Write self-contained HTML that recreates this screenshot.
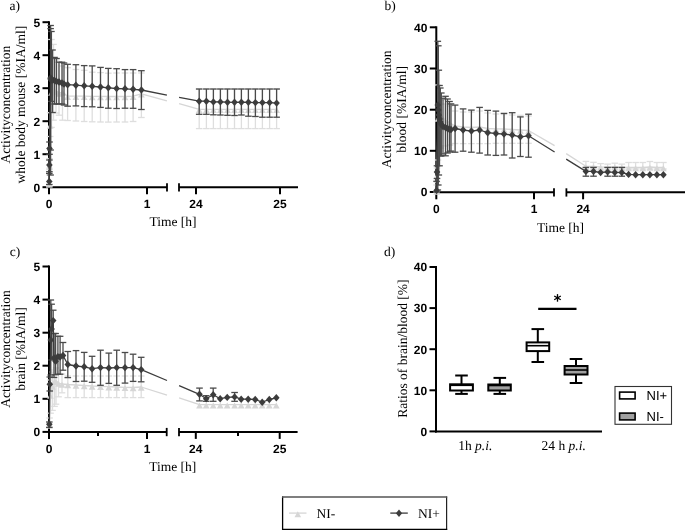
<!DOCTYPE html>
<html><head><meta charset="utf-8"><style>html,body{margin:0;padding:0;background:#fff;}svg{display:block;will-change:transform;} text{text-rendering:geometricPrecision;}</style></head>
<body>
<svg width="685" height="530" viewBox="0 0 685 530">
<rect width="685" height="530" fill="#fff"/>
<line x1="49.00" y1="21.20" x2="49.00" y2="188.20" stroke="#000" stroke-width="2" />
<line x1="42.50" y1="22.20" x2="49.00" y2="22.20" stroke="#000" stroke-width="2" />
<text x="40.1" y="26.5" font-family="Liberation Sans" font-size="12" font-weight="bold" text-anchor="end"  style="">5</text>
<line x1="42.50" y1="55.20" x2="49.00" y2="55.20" stroke="#000" stroke-width="2" />
<text x="40.1" y="59.5" font-family="Liberation Sans" font-size="12" font-weight="bold" text-anchor="end"  style="">4</text>
<line x1="42.50" y1="88.20" x2="49.00" y2="88.20" stroke="#000" stroke-width="2" />
<text x="40.1" y="92.5" font-family="Liberation Sans" font-size="12" font-weight="bold" text-anchor="end"  style="">3</text>
<line x1="42.50" y1="121.20" x2="49.00" y2="121.20" stroke="#000" stroke-width="2" />
<text x="40.1" y="125.5" font-family="Liberation Sans" font-size="12" font-weight="bold" text-anchor="end"  style="">2</text>
<line x1="42.50" y1="154.20" x2="49.00" y2="154.20" stroke="#000" stroke-width="2" />
<text x="40.1" y="158.5" font-family="Liberation Sans" font-size="12" font-weight="bold" text-anchor="end"  style="">1</text>
<line x1="42.50" y1="187.20" x2="49.00" y2="187.20" stroke="#000" stroke-width="2" />
<text x="40.1" y="191.5" font-family="Liberation Sans" font-size="12" font-weight="bold" text-anchor="end"  style="">0</text>
<line x1="48.00" y1="187.20" x2="167.00" y2="187.20" stroke="#000" stroke-width="2" />
<line x1="179.00" y1="187.20" x2="298.00" y2="187.20" stroke="#000" stroke-width="2" />
<line x1="167.00" y1="183.20" x2="167.00" y2="191.50" stroke="#000" stroke-width="1.8" />
<line x1="179.00" y1="183.20" x2="179.00" y2="191.50" stroke="#000" stroke-width="1.8" />
<line x1="49.00" y1="187.20" x2="49.00" y2="194.20" stroke="#000" stroke-width="2" />
<text x="49" y="208.3" font-family="Liberation Sans" font-size="12" font-weight="bold" text-anchor="middle"  style="">0</text>
<line x1="147.00" y1="187.20" x2="147.00" y2="194.20" stroke="#000" stroke-width="2" />
<text x="147" y="208.3" font-family="Liberation Sans" font-size="12" font-weight="bold" text-anchor="middle"  style="">1</text>
<line x1="196.00" y1="187.20" x2="196.00" y2="194.20" stroke="#000" stroke-width="2" />
<text x="196" y="208.3" font-family="Liberation Sans" font-size="12" font-weight="bold" text-anchor="middle"  style="">24</text>
<line x1="280.00" y1="187.20" x2="280.00" y2="194.20" stroke="#000" stroke-width="2" />
<text x="280" y="208.3" font-family="Liberation Sans" font-size="12" font-weight="bold" text-anchor="middle"  style="">25</text>
<text x="9.6" y="9.8" font-family="Liberation Serif" font-size="13.5" font-weight="normal" text-anchor="start"  style="">a)</text>
<line x1="49.30" y1="175.00" x2="49.30" y2="187.00" stroke="#dedede" stroke-width="1.3" />
<line x1="46.00" y1="175.00" x2="52.60" y2="175.00" stroke="#dedede" stroke-width="1.3" />
<line x1="46.00" y1="187.00" x2="52.60" y2="187.00" stroke="#dedede" stroke-width="1.3" />
<line x1="49.50" y1="158.60" x2="49.50" y2="169.60" stroke="#dedede" stroke-width="1.3" />
<line x1="46.20" y1="158.60" x2="52.80" y2="158.60" stroke="#dedede" stroke-width="1.3" />
<line x1="46.20" y1="169.60" x2="52.80" y2="169.60" stroke="#dedede" stroke-width="1.3" />
<line x1="50.20" y1="112.70" x2="50.20" y2="136.50" stroke="#dedede" stroke-width="1.3" />
<line x1="46.90" y1="112.70" x2="53.50" y2="112.70" stroke="#dedede" stroke-width="1.3" />
<line x1="46.90" y1="136.50" x2="53.50" y2="136.50" stroke="#dedede" stroke-width="1.3" />
<line x1="51.50" y1="39.50" x2="51.50" y2="127.40" stroke="#dedede" stroke-width="1.3" />
<line x1="48.20" y1="39.50" x2="54.80" y2="39.50" stroke="#dedede" stroke-width="1.3" />
<line x1="48.20" y1="127.40" x2="54.80" y2="127.40" stroke="#dedede" stroke-width="1.3" />
<line x1="53.50" y1="44.40" x2="53.50" y2="120.20" stroke="#dedede" stroke-width="1.3" />
<line x1="50.20" y1="44.40" x2="56.80" y2="44.40" stroke="#dedede" stroke-width="1.3" />
<line x1="50.20" y1="120.20" x2="56.80" y2="120.20" stroke="#dedede" stroke-width="1.3" />
<line x1="56.00" y1="60.00" x2="56.00" y2="113.00" stroke="#dedede" stroke-width="1.3" />
<line x1="52.70" y1="60.00" x2="59.30" y2="60.00" stroke="#dedede" stroke-width="1.3" />
<line x1="52.70" y1="113.00" x2="59.30" y2="113.00" stroke="#dedede" stroke-width="1.3" />
<line x1="59.00" y1="62.00" x2="59.00" y2="115.20" stroke="#dedede" stroke-width="1.3" />
<line x1="55.70" y1="62.00" x2="62.30" y2="62.00" stroke="#dedede" stroke-width="1.3" />
<line x1="55.70" y1="115.20" x2="62.30" y2="115.20" stroke="#dedede" stroke-width="1.3" />
<line x1="62.50" y1="66.00" x2="62.50" y2="120.20" stroke="#dedede" stroke-width="1.3" />
<line x1="59.20" y1="66.00" x2="65.80" y2="66.00" stroke="#dedede" stroke-width="1.3" />
<line x1="59.20" y1="120.20" x2="65.80" y2="120.20" stroke="#dedede" stroke-width="1.3" />
<line x1="67.60" y1="67.70" x2="67.60" y2="120.50" stroke="#dedede" stroke-width="1.3" />
<line x1="64.30" y1="67.70" x2="70.90" y2="67.70" stroke="#dedede" stroke-width="1.3" />
<line x1="64.30" y1="120.50" x2="70.90" y2="120.50" stroke="#dedede" stroke-width="1.3" />
<line x1="75.90" y1="69.50" x2="75.90" y2="121.00" stroke="#dedede" stroke-width="1.3" />
<line x1="72.60" y1="69.50" x2="79.20" y2="69.50" stroke="#dedede" stroke-width="1.3" />
<line x1="72.60" y1="121.00" x2="79.20" y2="121.00" stroke="#dedede" stroke-width="1.3" />
<line x1="84.20" y1="70.30" x2="84.20" y2="121.50" stroke="#dedede" stroke-width="1.3" />
<line x1="80.90" y1="70.30" x2="87.50" y2="70.30" stroke="#dedede" stroke-width="1.3" />
<line x1="80.90" y1="121.50" x2="87.50" y2="121.50" stroke="#dedede" stroke-width="1.3" />
<line x1="92.20" y1="72.20" x2="92.20" y2="121.80" stroke="#dedede" stroke-width="1.3" />
<line x1="88.90" y1="72.20" x2="95.50" y2="72.20" stroke="#dedede" stroke-width="1.3" />
<line x1="88.90" y1="121.80" x2="95.50" y2="121.80" stroke="#dedede" stroke-width="1.3" />
<line x1="100.50" y1="72.60" x2="100.50" y2="122.00" stroke="#dedede" stroke-width="1.3" />
<line x1="97.20" y1="72.60" x2="103.80" y2="72.60" stroke="#dedede" stroke-width="1.3" />
<line x1="97.20" y1="122.00" x2="103.80" y2="122.00" stroke="#dedede" stroke-width="1.3" />
<line x1="108.30" y1="73.20" x2="108.30" y2="122.10" stroke="#dedede" stroke-width="1.3" />
<line x1="105.00" y1="73.20" x2="111.60" y2="73.20" stroke="#dedede" stroke-width="1.3" />
<line x1="105.00" y1="122.10" x2="111.60" y2="122.10" stroke="#dedede" stroke-width="1.3" />
<line x1="116.60" y1="73.00" x2="116.60" y2="122.00" stroke="#dedede" stroke-width="1.3" />
<line x1="113.30" y1="73.00" x2="119.90" y2="73.00" stroke="#dedede" stroke-width="1.3" />
<line x1="113.30" y1="122.00" x2="119.90" y2="122.00" stroke="#dedede" stroke-width="1.3" />
<line x1="125.00" y1="73.00" x2="125.00" y2="122.00" stroke="#dedede" stroke-width="1.3" />
<line x1="121.70" y1="73.00" x2="128.30" y2="73.00" stroke="#dedede" stroke-width="1.3" />
<line x1="121.70" y1="122.00" x2="128.30" y2="122.00" stroke="#dedede" stroke-width="1.3" />
<line x1="133.10" y1="73.00" x2="133.10" y2="121.50" stroke="#dedede" stroke-width="1.3" />
<line x1="129.80" y1="73.00" x2="136.40" y2="73.00" stroke="#dedede" stroke-width="1.3" />
<line x1="129.80" y1="121.50" x2="136.40" y2="121.50" stroke="#dedede" stroke-width="1.3" />
<line x1="141.40" y1="73.00" x2="141.40" y2="117.50" stroke="#dedede" stroke-width="1.3" />
<line x1="138.10" y1="73.00" x2="144.70" y2="73.00" stroke="#dedede" stroke-width="1.3" />
<line x1="138.10" y1="117.50" x2="144.70" y2="117.50" stroke="#dedede" stroke-width="1.3" />
<line x1="199.20" y1="89.20" x2="199.20" y2="128.60" stroke="#dedede" stroke-width="1.3" />
<line x1="195.90" y1="89.20" x2="202.50" y2="89.20" stroke="#dedede" stroke-width="1.3" />
<line x1="195.90" y1="128.60" x2="202.50" y2="128.60" stroke="#dedede" stroke-width="1.3" />
<line x1="206.40" y1="89.20" x2="206.40" y2="128.60" stroke="#dedede" stroke-width="1.3" />
<line x1="203.10" y1="89.20" x2="209.70" y2="89.20" stroke="#dedede" stroke-width="1.3" />
<line x1="203.10" y1="128.60" x2="209.70" y2="128.60" stroke="#dedede" stroke-width="1.3" />
<line x1="213.40" y1="89.20" x2="213.40" y2="128.60" stroke="#dedede" stroke-width="1.3" />
<line x1="210.10" y1="89.20" x2="216.70" y2="89.20" stroke="#dedede" stroke-width="1.3" />
<line x1="210.10" y1="128.60" x2="216.70" y2="128.60" stroke="#dedede" stroke-width="1.3" />
<line x1="220.40" y1="89.20" x2="220.40" y2="128.60" stroke="#dedede" stroke-width="1.3" />
<line x1="217.10" y1="89.20" x2="223.70" y2="89.20" stroke="#dedede" stroke-width="1.3" />
<line x1="217.10" y1="128.60" x2="223.70" y2="128.60" stroke="#dedede" stroke-width="1.3" />
<line x1="227.50" y1="89.20" x2="227.50" y2="128.60" stroke="#dedede" stroke-width="1.3" />
<line x1="224.20" y1="89.20" x2="230.80" y2="89.20" stroke="#dedede" stroke-width="1.3" />
<line x1="224.20" y1="128.60" x2="230.80" y2="128.60" stroke="#dedede" stroke-width="1.3" />
<line x1="234.50" y1="89.20" x2="234.50" y2="128.60" stroke="#dedede" stroke-width="1.3" />
<line x1="231.20" y1="89.20" x2="237.80" y2="89.20" stroke="#dedede" stroke-width="1.3" />
<line x1="231.20" y1="128.60" x2="237.80" y2="128.60" stroke="#dedede" stroke-width="1.3" />
<line x1="241.40" y1="89.20" x2="241.40" y2="128.60" stroke="#dedede" stroke-width="1.3" />
<line x1="238.10" y1="89.20" x2="244.70" y2="89.20" stroke="#dedede" stroke-width="1.3" />
<line x1="238.10" y1="128.60" x2="244.70" y2="128.60" stroke="#dedede" stroke-width="1.3" />
<line x1="248.40" y1="89.20" x2="248.40" y2="128.60" stroke="#dedede" stroke-width="1.3" />
<line x1="245.10" y1="89.20" x2="251.70" y2="89.20" stroke="#dedede" stroke-width="1.3" />
<line x1="245.10" y1="128.60" x2="251.70" y2="128.60" stroke="#dedede" stroke-width="1.3" />
<line x1="255.40" y1="89.20" x2="255.40" y2="128.60" stroke="#dedede" stroke-width="1.3" />
<line x1="252.10" y1="89.20" x2="258.70" y2="89.20" stroke="#dedede" stroke-width="1.3" />
<line x1="252.10" y1="128.60" x2="258.70" y2="128.60" stroke="#dedede" stroke-width="1.3" />
<line x1="262.40" y1="89.20" x2="262.40" y2="128.60" stroke="#dedede" stroke-width="1.3" />
<line x1="259.10" y1="89.20" x2="265.70" y2="89.20" stroke="#dedede" stroke-width="1.3" />
<line x1="259.10" y1="128.60" x2="265.70" y2="128.60" stroke="#dedede" stroke-width="1.3" />
<line x1="269.60" y1="89.20" x2="269.60" y2="128.60" stroke="#dedede" stroke-width="1.3" />
<line x1="266.30" y1="89.20" x2="272.90" y2="89.20" stroke="#dedede" stroke-width="1.3" />
<line x1="266.30" y1="128.60" x2="272.90" y2="128.60" stroke="#dedede" stroke-width="1.3" />
<line x1="276.60" y1="89.20" x2="276.60" y2="128.60" stroke="#dedede" stroke-width="1.3" />
<line x1="273.30" y1="89.20" x2="279.90" y2="89.20" stroke="#dedede" stroke-width="1.3" />
<line x1="273.30" y1="128.60" x2="279.90" y2="128.60" stroke="#dedede" stroke-width="1.3" />
<polyline points="49.30,183.00 49.50,165.00 50.20,125.00 51.50,92.00 53.50,90.00 56.00,91.00 59.00,93.00 62.50,92.00 67.60,96.20 75.90,96.20 84.20,96.20 92.20,96.40 100.50,96.40 108.30,96.50 116.60,96.50 125.00,96.50 133.10,96.20 141.40,93.80 166.90,100.90" fill="none" stroke="#d6d6d6" stroke-width="1.3" stroke-linejoin="round"/>
<polyline points="179.10,103.60 199.20,109.30 206.40,109.30 213.40,109.30 220.40,109.30 227.50,109.30 234.50,109.30 241.40,109.30 248.40,109.30 255.40,109.30 262.40,109.30 269.60,109.30 276.60,109.30" fill="none" stroke="#d6d6d6" stroke-width="1.3" stroke-linejoin="round"/>
<path d="M49.30 180.80L52.70 186.80L45.90 186.80Z" fill="#d6d6d6"/>
<path d="M49.50 162.80L52.90 168.80L46.10 168.80Z" fill="#d6d6d6"/>
<path d="M50.20 122.80L53.60 128.80L46.80 128.80Z" fill="#d6d6d6"/>
<path d="M51.50 89.80L54.90 95.80L48.10 95.80Z" fill="#d6d6d6"/>
<path d="M53.50 87.80L56.90 93.80L50.10 93.80Z" fill="#d6d6d6"/>
<path d="M56.00 88.80L59.40 94.80L52.60 94.80Z" fill="#d6d6d6"/>
<path d="M59.00 90.80L62.40 96.80L55.60 96.80Z" fill="#d6d6d6"/>
<path d="M62.50 89.80L65.90 95.80L59.10 95.80Z" fill="#d6d6d6"/>
<path d="M67.60 94.00L71.00 100.00L64.20 100.00Z" fill="#d6d6d6"/>
<path d="M75.90 94.00L79.30 100.00L72.50 100.00Z" fill="#d6d6d6"/>
<path d="M84.20 94.00L87.60 100.00L80.80 100.00Z" fill="#d6d6d6"/>
<path d="M92.20 94.20L95.60 100.20L88.80 100.20Z" fill="#d6d6d6"/>
<path d="M100.50 94.20L103.90 100.20L97.10 100.20Z" fill="#d6d6d6"/>
<path d="M108.30 94.30L111.70 100.30L104.90 100.30Z" fill="#d6d6d6"/>
<path d="M116.60 94.30L120.00 100.30L113.20 100.30Z" fill="#d6d6d6"/>
<path d="M125.00 94.30L128.40 100.30L121.60 100.30Z" fill="#d6d6d6"/>
<path d="M133.10 94.00L136.50 100.00L129.70 100.00Z" fill="#d6d6d6"/>
<path d="M141.40 91.60L144.80 97.60L138.00 97.60Z" fill="#d6d6d6"/>
<path d="M199.20 107.10L202.60 113.10L195.80 113.10Z" fill="#d6d6d6"/>
<path d="M206.40 107.10L209.80 113.10L203.00 113.10Z" fill="#d6d6d6"/>
<path d="M213.40 107.10L216.80 113.10L210.00 113.10Z" fill="#d6d6d6"/>
<path d="M220.40 107.10L223.80 113.10L217.00 113.10Z" fill="#d6d6d6"/>
<path d="M227.50 107.10L230.90 113.10L224.10 113.10Z" fill="#d6d6d6"/>
<path d="M234.50 107.10L237.90 113.10L231.10 113.10Z" fill="#d6d6d6"/>
<path d="M241.40 107.10L244.80 113.10L238.00 113.10Z" fill="#d6d6d6"/>
<path d="M248.40 107.10L251.80 113.10L245.00 113.10Z" fill="#d6d6d6"/>
<path d="M255.40 107.10L258.80 113.10L252.00 113.10Z" fill="#d6d6d6"/>
<path d="M262.40 107.10L265.80 113.10L259.00 113.10Z" fill="#d6d6d6"/>
<path d="M269.60 107.10L273.00 113.10L266.20 113.10Z" fill="#d6d6d6"/>
<path d="M276.60 107.10L280.00 113.10L273.20 113.10Z" fill="#d6d6d6"/>
<line x1="49.30" y1="173.40" x2="49.30" y2="184.50" stroke="#4a4a4a" stroke-width="1.3" />
<line x1="46.00" y1="173.40" x2="52.60" y2="173.40" stroke="#4a4a4a" stroke-width="1.3" />
<line x1="46.00" y1="184.50" x2="52.60" y2="184.50" stroke="#4a4a4a" stroke-width="1.3" />
<line x1="49.40" y1="160.00" x2="49.40" y2="171.70" stroke="#4a4a4a" stroke-width="1.3" />
<line x1="46.10" y1="160.00" x2="52.70" y2="160.00" stroke="#4a4a4a" stroke-width="1.3" />
<line x1="46.10" y1="171.70" x2="52.70" y2="171.70" stroke="#4a4a4a" stroke-width="1.3" />
<line x1="49.50" y1="142.00" x2="49.50" y2="154.30" stroke="#4a4a4a" stroke-width="1.3" />
<line x1="46.20" y1="142.00" x2="52.80" y2="142.00" stroke="#4a4a4a" stroke-width="1.3" />
<line x1="46.20" y1="154.30" x2="52.80" y2="154.30" stroke="#4a4a4a" stroke-width="1.3" />
<line x1="50.60" y1="25.50" x2="50.60" y2="175.00" stroke="#4a4a4a" stroke-width="1.3" />
<line x1="47.30" y1="25.50" x2="53.90" y2="25.50" stroke="#4a4a4a" stroke-width="1.3" />
<line x1="47.30" y1="175.00" x2="53.90" y2="175.00" stroke="#4a4a4a" stroke-width="1.3" />
<line x1="50.60" y1="28.60" x2="50.60" y2="150.00" stroke="#4a4a4a" stroke-width="1.3" />
<line x1="47.30" y1="28.60" x2="53.90" y2="28.60" stroke="#4a4a4a" stroke-width="1.3" />
<line x1="47.30" y1="150.00" x2="53.90" y2="150.00" stroke="#4a4a4a" stroke-width="1.3" />
<line x1="51.40" y1="31.50" x2="51.40" y2="101.40" stroke="#4a4a4a" stroke-width="1.3" />
<line x1="48.10" y1="31.50" x2="54.70" y2="31.50" stroke="#4a4a4a" stroke-width="1.3" />
<line x1="48.10" y1="101.40" x2="54.70" y2="101.40" stroke="#4a4a4a" stroke-width="1.3" />
<line x1="52.50" y1="50.00" x2="52.50" y2="112.50" stroke="#4a4a4a" stroke-width="1.3" />
<line x1="49.20" y1="50.00" x2="55.80" y2="50.00" stroke="#4a4a4a" stroke-width="1.3" />
<line x1="49.20" y1="112.50" x2="55.80" y2="112.50" stroke="#4a4a4a" stroke-width="1.3" />
<line x1="54.50" y1="57.40" x2="54.50" y2="104.00" stroke="#4a4a4a" stroke-width="1.3" />
<line x1="51.20" y1="57.40" x2="57.80" y2="57.40" stroke="#4a4a4a" stroke-width="1.3" />
<line x1="51.20" y1="104.00" x2="57.80" y2="104.00" stroke="#4a4a4a" stroke-width="1.3" />
<line x1="56.50" y1="58.50" x2="56.50" y2="104.00" stroke="#4a4a4a" stroke-width="1.3" />
<line x1="53.20" y1="58.50" x2="59.80" y2="58.50" stroke="#4a4a4a" stroke-width="1.3" />
<line x1="53.20" y1="104.00" x2="59.80" y2="104.00" stroke="#4a4a4a" stroke-width="1.3" />
<line x1="59.00" y1="62.20" x2="59.00" y2="104.00" stroke="#4a4a4a" stroke-width="1.3" />
<line x1="55.70" y1="62.20" x2="62.30" y2="62.20" stroke="#4a4a4a" stroke-width="1.3" />
<line x1="55.70" y1="104.00" x2="62.30" y2="104.00" stroke="#4a4a4a" stroke-width="1.3" />
<line x1="62.00" y1="62.20" x2="62.00" y2="104.00" stroke="#4a4a4a" stroke-width="1.3" />
<line x1="58.70" y1="62.20" x2="65.30" y2="62.20" stroke="#4a4a4a" stroke-width="1.3" />
<line x1="58.70" y1="104.00" x2="65.30" y2="104.00" stroke="#4a4a4a" stroke-width="1.3" />
<line x1="64.00" y1="63.00" x2="64.00" y2="105.00" stroke="#4a4a4a" stroke-width="1.3" />
<line x1="60.70" y1="63.00" x2="67.30" y2="63.00" stroke="#4a4a4a" stroke-width="1.3" />
<line x1="60.70" y1="105.00" x2="67.30" y2="105.00" stroke="#4a4a4a" stroke-width="1.3" />
<line x1="67.60" y1="64.30" x2="67.60" y2="106.20" stroke="#4a4a4a" stroke-width="1.3" />
<line x1="64.30" y1="64.30" x2="70.90" y2="64.30" stroke="#4a4a4a" stroke-width="1.3" />
<line x1="64.30" y1="106.20" x2="70.90" y2="106.20" stroke="#4a4a4a" stroke-width="1.3" />
<line x1="75.90" y1="64.70" x2="75.90" y2="105.90" stroke="#4a4a4a" stroke-width="1.3" />
<line x1="72.60" y1="64.70" x2="79.20" y2="64.70" stroke="#4a4a4a" stroke-width="1.3" />
<line x1="72.60" y1="105.90" x2="79.20" y2="105.90" stroke="#4a4a4a" stroke-width="1.3" />
<line x1="84.20" y1="65.60" x2="84.20" y2="106.60" stroke="#4a4a4a" stroke-width="1.3" />
<line x1="80.90" y1="65.60" x2="87.50" y2="65.60" stroke="#4a4a4a" stroke-width="1.3" />
<line x1="80.90" y1="106.60" x2="87.50" y2="106.60" stroke="#4a4a4a" stroke-width="1.3" />
<line x1="92.20" y1="65.90" x2="92.20" y2="106.80" stroke="#4a4a4a" stroke-width="1.3" />
<line x1="88.90" y1="65.90" x2="95.50" y2="65.90" stroke="#4a4a4a" stroke-width="1.3" />
<line x1="88.90" y1="106.80" x2="95.50" y2="106.80" stroke="#4a4a4a" stroke-width="1.3" />
<line x1="100.50" y1="67.40" x2="100.50" y2="107.40" stroke="#4a4a4a" stroke-width="1.3" />
<line x1="97.20" y1="67.40" x2="103.80" y2="67.40" stroke="#4a4a4a" stroke-width="1.3" />
<line x1="97.20" y1="107.40" x2="103.80" y2="107.40" stroke="#4a4a4a" stroke-width="1.3" />
<line x1="108.30" y1="68.40" x2="108.30" y2="108.20" stroke="#4a4a4a" stroke-width="1.3" />
<line x1="105.00" y1="68.40" x2="111.60" y2="68.40" stroke="#4a4a4a" stroke-width="1.3" />
<line x1="105.00" y1="108.20" x2="111.60" y2="108.20" stroke="#4a4a4a" stroke-width="1.3" />
<line x1="116.60" y1="68.70" x2="116.60" y2="108.50" stroke="#4a4a4a" stroke-width="1.3" />
<line x1="113.30" y1="68.70" x2="119.90" y2="68.70" stroke="#4a4a4a" stroke-width="1.3" />
<line x1="113.30" y1="108.50" x2="119.90" y2="108.50" stroke="#4a4a4a" stroke-width="1.3" />
<line x1="125.00" y1="69.60" x2="125.00" y2="108.20" stroke="#4a4a4a" stroke-width="1.3" />
<line x1="121.70" y1="69.60" x2="128.30" y2="69.60" stroke="#4a4a4a" stroke-width="1.3" />
<line x1="121.70" y1="108.20" x2="128.30" y2="108.20" stroke="#4a4a4a" stroke-width="1.3" />
<line x1="133.10" y1="69.60" x2="133.10" y2="108.30" stroke="#4a4a4a" stroke-width="1.3" />
<line x1="129.80" y1="69.60" x2="136.40" y2="69.60" stroke="#4a4a4a" stroke-width="1.3" />
<line x1="129.80" y1="108.30" x2="136.40" y2="108.30" stroke="#4a4a4a" stroke-width="1.3" />
<line x1="141.40" y1="70.70" x2="141.40" y2="109.50" stroke="#4a4a4a" stroke-width="1.3" />
<line x1="138.10" y1="70.70" x2="144.70" y2="70.70" stroke="#4a4a4a" stroke-width="1.3" />
<line x1="138.10" y1="109.50" x2="144.70" y2="109.50" stroke="#4a4a4a" stroke-width="1.3" />
<line x1="199.20" y1="89.00" x2="199.20" y2="114.30" stroke="#4a4a4a" stroke-width="1.3" />
<line x1="195.90" y1="89.00" x2="202.50" y2="89.00" stroke="#4a4a4a" stroke-width="1.3" />
<line x1="195.90" y1="114.30" x2="202.50" y2="114.30" stroke="#4a4a4a" stroke-width="1.3" />
<line x1="206.40" y1="89.00" x2="206.40" y2="114.30" stroke="#4a4a4a" stroke-width="1.3" />
<line x1="203.10" y1="89.00" x2="209.70" y2="89.00" stroke="#4a4a4a" stroke-width="1.3" />
<line x1="203.10" y1="114.30" x2="209.70" y2="114.30" stroke="#4a4a4a" stroke-width="1.3" />
<line x1="213.40" y1="89.00" x2="213.40" y2="114.80" stroke="#4a4a4a" stroke-width="1.3" />
<line x1="210.10" y1="89.00" x2="216.70" y2="89.00" stroke="#4a4a4a" stroke-width="1.3" />
<line x1="210.10" y1="114.80" x2="216.70" y2="114.80" stroke="#4a4a4a" stroke-width="1.3" />
<line x1="220.40" y1="89.00" x2="220.40" y2="115.00" stroke="#4a4a4a" stroke-width="1.3" />
<line x1="217.10" y1="89.00" x2="223.70" y2="89.00" stroke="#4a4a4a" stroke-width="1.3" />
<line x1="217.10" y1="115.00" x2="223.70" y2="115.00" stroke="#4a4a4a" stroke-width="1.3" />
<line x1="227.50" y1="89.00" x2="227.50" y2="115.30" stroke="#4a4a4a" stroke-width="1.3" />
<line x1="224.20" y1="89.00" x2="230.80" y2="89.00" stroke="#4a4a4a" stroke-width="1.3" />
<line x1="224.20" y1="115.30" x2="230.80" y2="115.30" stroke="#4a4a4a" stroke-width="1.3" />
<line x1="234.50" y1="89.00" x2="234.50" y2="115.50" stroke="#4a4a4a" stroke-width="1.3" />
<line x1="231.20" y1="89.00" x2="237.80" y2="89.00" stroke="#4a4a4a" stroke-width="1.3" />
<line x1="231.20" y1="115.50" x2="237.80" y2="115.50" stroke="#4a4a4a" stroke-width="1.3" />
<line x1="241.40" y1="89.00" x2="241.40" y2="115.00" stroke="#4a4a4a" stroke-width="1.3" />
<line x1="238.10" y1="89.00" x2="244.70" y2="89.00" stroke="#4a4a4a" stroke-width="1.3" />
<line x1="238.10" y1="115.00" x2="244.70" y2="115.00" stroke="#4a4a4a" stroke-width="1.3" />
<line x1="248.40" y1="89.00" x2="248.40" y2="116.20" stroke="#4a4a4a" stroke-width="1.3" />
<line x1="245.10" y1="89.00" x2="251.70" y2="89.00" stroke="#4a4a4a" stroke-width="1.3" />
<line x1="245.10" y1="116.20" x2="251.70" y2="116.20" stroke="#4a4a4a" stroke-width="1.3" />
<line x1="255.40" y1="89.00" x2="255.40" y2="116.50" stroke="#4a4a4a" stroke-width="1.3" />
<line x1="252.10" y1="89.00" x2="258.70" y2="89.00" stroke="#4a4a4a" stroke-width="1.3" />
<line x1="252.10" y1="116.50" x2="258.70" y2="116.50" stroke="#4a4a4a" stroke-width="1.3" />
<line x1="262.40" y1="89.00" x2="262.40" y2="117.20" stroke="#4a4a4a" stroke-width="1.3" />
<line x1="259.10" y1="89.00" x2="265.70" y2="89.00" stroke="#4a4a4a" stroke-width="1.3" />
<line x1="259.10" y1="117.20" x2="265.70" y2="117.20" stroke="#4a4a4a" stroke-width="1.3" />
<line x1="269.60" y1="89.00" x2="269.60" y2="117.20" stroke="#4a4a4a" stroke-width="1.3" />
<line x1="266.30" y1="89.00" x2="272.90" y2="89.00" stroke="#4a4a4a" stroke-width="1.3" />
<line x1="266.30" y1="117.20" x2="272.90" y2="117.20" stroke="#4a4a4a" stroke-width="1.3" />
<line x1="276.60" y1="89.00" x2="276.60" y2="117.20" stroke="#4a4a4a" stroke-width="1.3" />
<line x1="273.30" y1="89.00" x2="279.90" y2="89.00" stroke="#4a4a4a" stroke-width="1.3" />
<line x1="273.30" y1="117.20" x2="279.90" y2="117.20" stroke="#4a4a4a" stroke-width="1.3" />
<polyline points="49.30,181.50 49.40,165.00 49.50,148.40 50.60,78.00 50.60,79.00 51.40,80.00 52.50,80.00 54.50,80.50 56.50,81.50 59.00,82.00 62.00,83.00 64.00,84.00 67.60,84.70 75.90,85.20 84.20,85.80 92.20,86.30 100.50,87.00 108.30,87.80 116.60,88.50 125.00,88.80 133.10,89.30 141.40,90.00 166.90,95.10" fill="none" stroke="#3c3c3c" stroke-width="1.3" stroke-linejoin="round"/>
<polyline points="179.10,97.40 199.20,101.20 206.40,101.20 213.40,101.90 220.40,101.90 227.50,102.20 234.50,102.30 241.40,102.20 248.40,102.30 255.40,102.60 262.40,102.60 269.60,102.60 276.60,103.10" fill="none" stroke="#3c3c3c" stroke-width="1.3" stroke-linejoin="round"/>
<path d="M49.30 177.80L52.60 181.50L49.30 185.20L46.00 181.50Z" fill="#3c3c3c"/>
<path d="M49.40 161.30L52.70 165.00L49.40 168.70L46.10 165.00Z" fill="#3c3c3c"/>
<path d="M49.50 144.70L52.80 148.40L49.50 152.10L46.20 148.40Z" fill="#3c3c3c"/>
<path d="M50.60 74.30L53.90 78.00L50.60 81.70L47.30 78.00Z" fill="#3c3c3c"/>
<path d="M50.60 75.30L53.90 79.00L50.60 82.70L47.30 79.00Z" fill="#3c3c3c"/>
<path d="M51.40 76.30L54.70 80.00L51.40 83.70L48.10 80.00Z" fill="#3c3c3c"/>
<path d="M52.50 76.30L55.80 80.00L52.50 83.70L49.20 80.00Z" fill="#3c3c3c"/>
<path d="M54.50 76.80L57.80 80.50L54.50 84.20L51.20 80.50Z" fill="#3c3c3c"/>
<path d="M56.50 77.80L59.80 81.50L56.50 85.20L53.20 81.50Z" fill="#3c3c3c"/>
<path d="M59.00 78.30L62.30 82.00L59.00 85.70L55.70 82.00Z" fill="#3c3c3c"/>
<path d="M62.00 79.30L65.30 83.00L62.00 86.70L58.70 83.00Z" fill="#3c3c3c"/>
<path d="M64.00 80.30L67.30 84.00L64.00 87.70L60.70 84.00Z" fill="#3c3c3c"/>
<path d="M67.60 81.00L70.90 84.70L67.60 88.40L64.30 84.70Z" fill="#3c3c3c"/>
<path d="M75.90 81.50L79.20 85.20L75.90 88.90L72.60 85.20Z" fill="#3c3c3c"/>
<path d="M84.20 82.10L87.50 85.80L84.20 89.50L80.90 85.80Z" fill="#3c3c3c"/>
<path d="M92.20 82.60L95.50 86.30L92.20 90.00L88.90 86.30Z" fill="#3c3c3c"/>
<path d="M100.50 83.30L103.80 87.00L100.50 90.70L97.20 87.00Z" fill="#3c3c3c"/>
<path d="M108.30 84.10L111.60 87.80L108.30 91.50L105.00 87.80Z" fill="#3c3c3c"/>
<path d="M116.60 84.80L119.90 88.50L116.60 92.20L113.30 88.50Z" fill="#3c3c3c"/>
<path d="M125.00 85.10L128.30 88.80L125.00 92.50L121.70 88.80Z" fill="#3c3c3c"/>
<path d="M133.10 85.60L136.40 89.30L133.10 93.00L129.80 89.30Z" fill="#3c3c3c"/>
<path d="M141.40 86.30L144.70 90.00L141.40 93.70L138.10 90.00Z" fill="#3c3c3c"/>
<path d="M199.20 97.50L202.50 101.20L199.20 104.90L195.90 101.20Z" fill="#3c3c3c"/>
<path d="M206.40 97.50L209.70 101.20L206.40 104.90L203.10 101.20Z" fill="#3c3c3c"/>
<path d="M213.40 98.20L216.70 101.90L213.40 105.60L210.10 101.90Z" fill="#3c3c3c"/>
<path d="M220.40 98.20L223.70 101.90L220.40 105.60L217.10 101.90Z" fill="#3c3c3c"/>
<path d="M227.50 98.50L230.80 102.20L227.50 105.90L224.20 102.20Z" fill="#3c3c3c"/>
<path d="M234.50 98.60L237.80 102.30L234.50 106.00L231.20 102.30Z" fill="#3c3c3c"/>
<path d="M241.40 98.50L244.70 102.20L241.40 105.90L238.10 102.20Z" fill="#3c3c3c"/>
<path d="M248.40 98.60L251.70 102.30L248.40 106.00L245.10 102.30Z" fill="#3c3c3c"/>
<path d="M255.40 98.90L258.70 102.60L255.40 106.30L252.10 102.60Z" fill="#3c3c3c"/>
<path d="M262.40 98.90L265.70 102.60L262.40 106.30L259.10 102.60Z" fill="#3c3c3c"/>
<path d="M269.60 98.90L272.90 102.60L269.60 106.30L266.30 102.60Z" fill="#3c3c3c"/>
<path d="M276.60 99.40L279.90 103.10L276.60 106.80L273.30 103.10Z" fill="#3c3c3c"/>
<text x="173" y="225.8" font-family="Liberation Serif" font-size="13.5" font-weight="normal" text-anchor="middle"  style="">Time [h]</text>
<text transform="translate(10.4,104.7) rotate(-90)" x="0" y="0" font-family="Liberation Serif" font-size="13.5" text-anchor="middle">Activityconcentration</text>
<text transform="translate(25.4,104.7) rotate(-90)" x="0" y="0" font-family="Liberation Serif" font-size="13.5" text-anchor="middle">whole body mouse [%IA/ml]</text>
<line x1="436.30" y1="26.30" x2="436.30" y2="193.00" stroke="#000" stroke-width="2" />
<line x1="429.80" y1="27.30" x2="436.30" y2="27.30" stroke="#000" stroke-width="2" />
<text x="427.40000000000003" y="31.6" font-family="Liberation Sans" font-size="12" font-weight="bold" text-anchor="end"  style="">40</text>
<line x1="429.80" y1="68.50" x2="436.30" y2="68.50" stroke="#000" stroke-width="2" />
<text x="427.40000000000003" y="72.8" font-family="Liberation Sans" font-size="12" font-weight="bold" text-anchor="end"  style="">30</text>
<line x1="429.80" y1="109.70" x2="436.30" y2="109.70" stroke="#000" stroke-width="2" />
<text x="427.40000000000003" y="114.0" font-family="Liberation Sans" font-size="12" font-weight="bold" text-anchor="end"  style="">20</text>
<line x1="429.80" y1="150.80" x2="436.30" y2="150.80" stroke="#000" stroke-width="2" />
<text x="427.40000000000003" y="155.10000000000002" font-family="Liberation Sans" font-size="12" font-weight="bold" text-anchor="end"  style="">10</text>
<line x1="429.80" y1="192.00" x2="436.30" y2="192.00" stroke="#000" stroke-width="2" />
<text x="427.40000000000003" y="196.3" font-family="Liberation Sans" font-size="12" font-weight="bold" text-anchor="end"  style="">0</text>
<line x1="435.30" y1="192.30" x2="554.00" y2="192.30" stroke="#000" stroke-width="2" />
<line x1="566.40" y1="192.30" x2="686.00" y2="192.30" stroke="#000" stroke-width="2" />
<line x1="554.00" y1="188.30" x2="554.00" y2="196.60" stroke="#000" stroke-width="1.8" />
<line x1="566.40" y1="188.30" x2="566.40" y2="196.60" stroke="#000" stroke-width="1.8" />
<line x1="436.30" y1="192.30" x2="436.30" y2="199.30" stroke="#000" stroke-width="2" />
<text x="436.3" y="213" font-family="Liberation Sans" font-size="12" font-weight="bold" text-anchor="middle"  style="">0</text>
<line x1="534.00" y1="192.30" x2="534.00" y2="199.30" stroke="#000" stroke-width="2" />
<text x="534" y="213" font-family="Liberation Sans" font-size="12" font-weight="bold" text-anchor="middle"  style="">1</text>
<line x1="583.10" y1="192.30" x2="583.10" y2="199.30" stroke="#000" stroke-width="2" />
<text x="583.1" y="213" font-family="Liberation Sans" font-size="12" font-weight="bold" text-anchor="middle"  style="">24</text>
<text x="384.4" y="9.6" font-family="Liberation Serif" font-size="13.5" font-weight="normal" text-anchor="start"  style="">b)</text>
<line x1="436.60" y1="185.00" x2="436.60" y2="192.00" stroke="#dedede" stroke-width="1.3" />
<line x1="433.30" y1="185.00" x2="439.90" y2="185.00" stroke="#dedede" stroke-width="1.3" />
<line x1="433.30" y1="192.00" x2="439.90" y2="192.00" stroke="#dedede" stroke-width="1.3" />
<line x1="437.00" y1="168.00" x2="437.00" y2="182.00" stroke="#dedede" stroke-width="1.3" />
<line x1="433.70" y1="168.00" x2="440.30" y2="168.00" stroke="#dedede" stroke-width="1.3" />
<line x1="433.70" y1="182.00" x2="440.30" y2="182.00" stroke="#dedede" stroke-width="1.3" />
<line x1="438.00" y1="85.00" x2="438.00" y2="160.00" stroke="#dedede" stroke-width="1.3" />
<line x1="434.70" y1="85.00" x2="441.30" y2="85.00" stroke="#dedede" stroke-width="1.3" />
<line x1="434.70" y1="160.00" x2="441.30" y2="160.00" stroke="#dedede" stroke-width="1.3" />
<line x1="441.00" y1="100.00" x2="441.00" y2="148.00" stroke="#dedede" stroke-width="1.3" />
<line x1="437.70" y1="100.00" x2="444.30" y2="100.00" stroke="#dedede" stroke-width="1.3" />
<line x1="437.70" y1="148.00" x2="444.30" y2="148.00" stroke="#dedede" stroke-width="1.3" />
<line x1="445.00" y1="104.00" x2="445.00" y2="146.00" stroke="#dedede" stroke-width="1.3" />
<line x1="441.70" y1="104.00" x2="448.30" y2="104.00" stroke="#dedede" stroke-width="1.3" />
<line x1="441.70" y1="146.00" x2="448.30" y2="146.00" stroke="#dedede" stroke-width="1.3" />
<line x1="450.00" y1="106.00" x2="450.00" y2="145.00" stroke="#dedede" stroke-width="1.3" />
<line x1="446.70" y1="106.00" x2="453.30" y2="106.00" stroke="#dedede" stroke-width="1.3" />
<line x1="446.70" y1="145.00" x2="453.30" y2="145.00" stroke="#dedede" stroke-width="1.3" />
<line x1="455.10" y1="111.00" x2="455.10" y2="143.50" stroke="#dedede" stroke-width="1.3" />
<line x1="451.80" y1="111.00" x2="458.40" y2="111.00" stroke="#dedede" stroke-width="1.3" />
<line x1="451.80" y1="143.50" x2="458.40" y2="143.50" stroke="#dedede" stroke-width="1.3" />
<line x1="463.10" y1="112.00" x2="463.10" y2="143.60" stroke="#dedede" stroke-width="1.3" />
<line x1="459.80" y1="112.00" x2="466.40" y2="112.00" stroke="#dedede" stroke-width="1.3" />
<line x1="459.80" y1="143.60" x2="466.40" y2="143.60" stroke="#dedede" stroke-width="1.3" />
<line x1="471.40" y1="112.00" x2="471.40" y2="143.60" stroke="#dedede" stroke-width="1.3" />
<line x1="468.10" y1="112.00" x2="474.70" y2="112.00" stroke="#dedede" stroke-width="1.3" />
<line x1="468.10" y1="143.60" x2="474.70" y2="143.60" stroke="#dedede" stroke-width="1.3" />
<line x1="479.60" y1="111.00" x2="479.60" y2="143.60" stroke="#dedede" stroke-width="1.3" />
<line x1="476.30" y1="111.00" x2="482.90" y2="111.00" stroke="#dedede" stroke-width="1.3" />
<line x1="476.30" y1="143.60" x2="482.90" y2="143.60" stroke="#dedede" stroke-width="1.3" />
<line x1="487.70" y1="113.00" x2="487.70" y2="143.60" stroke="#dedede" stroke-width="1.3" />
<line x1="484.40" y1="113.00" x2="491.00" y2="113.00" stroke="#dedede" stroke-width="1.3" />
<line x1="484.40" y1="143.60" x2="491.00" y2="143.60" stroke="#dedede" stroke-width="1.3" />
<line x1="495.90" y1="114.00" x2="495.90" y2="143.30" stroke="#dedede" stroke-width="1.3" />
<line x1="492.60" y1="114.00" x2="499.20" y2="114.00" stroke="#dedede" stroke-width="1.3" />
<line x1="492.60" y1="143.30" x2="499.20" y2="143.30" stroke="#dedede" stroke-width="1.3" />
<line x1="504.00" y1="114.50" x2="504.00" y2="143.30" stroke="#dedede" stroke-width="1.3" />
<line x1="500.70" y1="114.50" x2="507.30" y2="114.50" stroke="#dedede" stroke-width="1.3" />
<line x1="500.70" y1="143.30" x2="507.30" y2="143.30" stroke="#dedede" stroke-width="1.3" />
<line x1="512.20" y1="115.00" x2="512.20" y2="143.30" stroke="#dedede" stroke-width="1.3" />
<line x1="508.90" y1="115.00" x2="515.50" y2="115.00" stroke="#dedede" stroke-width="1.3" />
<line x1="508.90" y1="143.30" x2="515.50" y2="143.30" stroke="#dedede" stroke-width="1.3" />
<line x1="520.40" y1="115.30" x2="520.40" y2="143.30" stroke="#dedede" stroke-width="1.3" />
<line x1="517.10" y1="115.30" x2="523.70" y2="115.30" stroke="#dedede" stroke-width="1.3" />
<line x1="517.10" y1="143.30" x2="523.70" y2="143.30" stroke="#dedede" stroke-width="1.3" />
<line x1="528.50" y1="116.00" x2="528.50" y2="143.30" stroke="#dedede" stroke-width="1.3" />
<line x1="525.20" y1="116.00" x2="531.80" y2="116.00" stroke="#dedede" stroke-width="1.3" />
<line x1="525.20" y1="143.30" x2="531.80" y2="143.30" stroke="#dedede" stroke-width="1.3" />
<line x1="585.90" y1="161.40" x2="585.90" y2="169.00" stroke="#dedede" stroke-width="1.3" />
<line x1="582.60" y1="161.40" x2="589.20" y2="161.40" stroke="#dedede" stroke-width="1.3" />
<line x1="582.60" y1="169.00" x2="589.20" y2="169.00" stroke="#dedede" stroke-width="1.3" />
<line x1="593.50" y1="162.30" x2="593.50" y2="169.00" stroke="#dedede" stroke-width="1.3" />
<line x1="590.20" y1="162.30" x2="596.80" y2="162.30" stroke="#dedede" stroke-width="1.3" />
<line x1="590.20" y1="169.00" x2="596.80" y2="169.00" stroke="#dedede" stroke-width="1.3" />
<line x1="600.60" y1="163.60" x2="600.60" y2="169.00" stroke="#dedede" stroke-width="1.3" />
<line x1="597.30" y1="163.60" x2="603.90" y2="163.60" stroke="#dedede" stroke-width="1.3" />
<line x1="597.30" y1="169.00" x2="603.90" y2="169.00" stroke="#dedede" stroke-width="1.3" />
<line x1="607.60" y1="164.10" x2="607.60" y2="169.00" stroke="#dedede" stroke-width="1.3" />
<line x1="604.30" y1="164.10" x2="610.90" y2="164.10" stroke="#dedede" stroke-width="1.3" />
<line x1="604.30" y1="169.00" x2="610.90" y2="169.00" stroke="#dedede" stroke-width="1.3" />
<line x1="614.80" y1="163.20" x2="614.80" y2="169.00" stroke="#dedede" stroke-width="1.3" />
<line x1="611.50" y1="163.20" x2="618.10" y2="163.20" stroke="#dedede" stroke-width="1.3" />
<line x1="611.50" y1="169.00" x2="618.10" y2="169.00" stroke="#dedede" stroke-width="1.3" />
<line x1="621.80" y1="164.10" x2="621.80" y2="169.00" stroke="#dedede" stroke-width="1.3" />
<line x1="618.50" y1="164.10" x2="625.10" y2="164.10" stroke="#dedede" stroke-width="1.3" />
<line x1="618.50" y1="169.00" x2="625.10" y2="169.00" stroke="#dedede" stroke-width="1.3" />
<line x1="628.60" y1="162.50" x2="628.60" y2="169.00" stroke="#dedede" stroke-width="1.3" />
<line x1="625.30" y1="162.50" x2="631.90" y2="162.50" stroke="#dedede" stroke-width="1.3" />
<line x1="625.30" y1="169.00" x2="631.90" y2="169.00" stroke="#dedede" stroke-width="1.3" />
<line x1="635.60" y1="162.50" x2="635.60" y2="169.00" stroke="#dedede" stroke-width="1.3" />
<line x1="632.30" y1="162.50" x2="638.90" y2="162.50" stroke="#dedede" stroke-width="1.3" />
<line x1="632.30" y1="169.00" x2="638.90" y2="169.00" stroke="#dedede" stroke-width="1.3" />
<line x1="642.80" y1="162.50" x2="642.80" y2="169.00" stroke="#dedede" stroke-width="1.3" />
<line x1="639.50" y1="162.50" x2="646.10" y2="162.50" stroke="#dedede" stroke-width="1.3" />
<line x1="639.50" y1="169.00" x2="646.10" y2="169.00" stroke="#dedede" stroke-width="1.3" />
<line x1="649.90" y1="161.50" x2="649.90" y2="169.00" stroke="#dedede" stroke-width="1.3" />
<line x1="646.60" y1="161.50" x2="653.20" y2="161.50" stroke="#dedede" stroke-width="1.3" />
<line x1="646.60" y1="169.00" x2="653.20" y2="169.00" stroke="#dedede" stroke-width="1.3" />
<line x1="656.90" y1="162.50" x2="656.90" y2="169.00" stroke="#dedede" stroke-width="1.3" />
<line x1="653.60" y1="162.50" x2="660.20" y2="162.50" stroke="#dedede" stroke-width="1.3" />
<line x1="653.60" y1="169.00" x2="660.20" y2="169.00" stroke="#dedede" stroke-width="1.3" />
<line x1="663.40" y1="162.50" x2="663.40" y2="169.00" stroke="#dedede" stroke-width="1.3" />
<line x1="660.10" y1="162.50" x2="666.70" y2="162.50" stroke="#dedede" stroke-width="1.3" />
<line x1="660.10" y1="169.00" x2="666.70" y2="169.00" stroke="#dedede" stroke-width="1.3" />
<polyline points="436.60,191.00 437.00,175.00 438.00,118.00 441.00,116.00 445.00,120.00 450.00,123.00 455.10,126.00 463.10,127.00 471.40,127.50 479.60,127.00 487.70,128.50 495.90,128.80 504.00,129.00 512.20,129.50 520.40,130.00 528.50,130.50 554.60,145.60" fill="none" stroke="#d6d6d6" stroke-width="1.3" stroke-linejoin="round"/>
<polyline points="566.20,153.60 585.90,166.30 593.50,166.50 600.60,167.00 607.60,167.20 614.80,166.80 621.80,167.20 628.60,167.50 635.60,167.50 642.80,167.50 649.90,167.00 656.90,167.50 663.40,167.50" fill="none" stroke="#d6d6d6" stroke-width="1.3" stroke-linejoin="round"/>
<path d="M436.60 188.80L440.00 194.80L433.20 194.80Z" fill="#d6d6d6"/>
<path d="M437.00 172.80L440.40 178.80L433.60 178.80Z" fill="#d6d6d6"/>
<path d="M438.00 115.80L441.40 121.80L434.60 121.80Z" fill="#d6d6d6"/>
<path d="M441.00 113.80L444.40 119.80L437.60 119.80Z" fill="#d6d6d6"/>
<path d="M445.00 117.80L448.40 123.80L441.60 123.80Z" fill="#d6d6d6"/>
<path d="M450.00 120.80L453.40 126.80L446.60 126.80Z" fill="#d6d6d6"/>
<path d="M455.10 123.80L458.50 129.80L451.70 129.80Z" fill="#d6d6d6"/>
<path d="M463.10 124.80L466.50 130.80L459.70 130.80Z" fill="#d6d6d6"/>
<path d="M471.40 125.30L474.80 131.30L468.00 131.30Z" fill="#d6d6d6"/>
<path d="M479.60 124.80L483.00 130.80L476.20 130.80Z" fill="#d6d6d6"/>
<path d="M487.70 126.30L491.10 132.30L484.30 132.30Z" fill="#d6d6d6"/>
<path d="M495.90 126.60L499.30 132.60L492.50 132.60Z" fill="#d6d6d6"/>
<path d="M504.00 126.80L507.40 132.80L500.60 132.80Z" fill="#d6d6d6"/>
<path d="M512.20 127.30L515.60 133.30L508.80 133.30Z" fill="#d6d6d6"/>
<path d="M520.40 127.80L523.80 133.80L517.00 133.80Z" fill="#d6d6d6"/>
<path d="M528.50 128.30L531.90 134.30L525.10 134.30Z" fill="#d6d6d6"/>
<path d="M585.90 164.10L589.30 170.10L582.50 170.10Z" fill="#d6d6d6"/>
<path d="M593.50 164.30L596.90 170.30L590.10 170.30Z" fill="#d6d6d6"/>
<path d="M600.60 164.80L604.00 170.80L597.20 170.80Z" fill="#d6d6d6"/>
<path d="M607.60 165.00L611.00 171.00L604.20 171.00Z" fill="#d6d6d6"/>
<path d="M614.80 164.60L618.20 170.60L611.40 170.60Z" fill="#d6d6d6"/>
<path d="M621.80 165.00L625.20 171.00L618.40 171.00Z" fill="#d6d6d6"/>
<path d="M628.60 165.30L632.00 171.30L625.20 171.30Z" fill="#d6d6d6"/>
<path d="M635.60 165.30L639.00 171.30L632.20 171.30Z" fill="#d6d6d6"/>
<path d="M642.80 165.30L646.20 171.30L639.40 171.30Z" fill="#d6d6d6"/>
<path d="M649.90 164.80L653.30 170.80L646.50 170.80Z" fill="#d6d6d6"/>
<path d="M656.90 165.30L660.30 171.30L653.50 171.30Z" fill="#d6d6d6"/>
<path d="M663.40 165.30L666.80 171.30L660.00 171.30Z" fill="#d6d6d6"/>
<line x1="436.60" y1="181.30" x2="436.60" y2="192.00" stroke="#4a4a4a" stroke-width="1.3" />
<line x1="433.30" y1="181.30" x2="439.90" y2="181.30" stroke="#4a4a4a" stroke-width="1.3" />
<line x1="433.30" y1="192.00" x2="439.90" y2="192.00" stroke="#4a4a4a" stroke-width="1.3" />
<line x1="437.00" y1="165.80" x2="437.00" y2="178.50" stroke="#4a4a4a" stroke-width="1.3" />
<line x1="433.70" y1="165.80" x2="440.30" y2="165.80" stroke="#4a4a4a" stroke-width="1.3" />
<line x1="433.70" y1="178.50" x2="440.30" y2="178.50" stroke="#4a4a4a" stroke-width="1.3" />
<line x1="437.80" y1="41.30" x2="437.80" y2="190.00" stroke="#4a4a4a" stroke-width="1.3" />
<line x1="434.50" y1="41.30" x2="441.10" y2="41.30" stroke="#4a4a4a" stroke-width="1.3" />
<line x1="434.50" y1="190.00" x2="441.10" y2="190.00" stroke="#4a4a4a" stroke-width="1.3" />
<line x1="438.30" y1="45.80" x2="438.30" y2="185.00" stroke="#4a4a4a" stroke-width="1.3" />
<line x1="435.00" y1="45.80" x2="441.60" y2="45.80" stroke="#4a4a4a" stroke-width="1.3" />
<line x1="435.00" y1="185.00" x2="441.60" y2="185.00" stroke="#4a4a4a" stroke-width="1.3" />
<line x1="438.80" y1="70.20" x2="438.80" y2="175.00" stroke="#4a4a4a" stroke-width="1.3" />
<line x1="435.50" y1="70.20" x2="442.10" y2="70.20" stroke="#4a4a4a" stroke-width="1.3" />
<line x1="435.50" y1="175.00" x2="442.10" y2="175.00" stroke="#4a4a4a" stroke-width="1.3" />
<line x1="439.50" y1="85.50" x2="439.50" y2="165.80" stroke="#4a4a4a" stroke-width="1.3" />
<line x1="436.20" y1="85.50" x2="442.80" y2="85.50" stroke="#4a4a4a" stroke-width="1.3" />
<line x1="436.20" y1="165.80" x2="442.80" y2="165.80" stroke="#4a4a4a" stroke-width="1.3" />
<line x1="440.30" y1="88.00" x2="440.30" y2="156.00" stroke="#4a4a4a" stroke-width="1.3" />
<line x1="437.00" y1="88.00" x2="443.60" y2="88.00" stroke="#4a4a4a" stroke-width="1.3" />
<line x1="437.00" y1="156.00" x2="443.60" y2="156.00" stroke="#4a4a4a" stroke-width="1.3" />
<line x1="441.30" y1="93.00" x2="441.30" y2="155.80" stroke="#4a4a4a" stroke-width="1.3" />
<line x1="438.00" y1="93.00" x2="444.60" y2="93.00" stroke="#4a4a4a" stroke-width="1.3" />
<line x1="438.00" y1="155.80" x2="444.60" y2="155.80" stroke="#4a4a4a" stroke-width="1.3" />
<line x1="443.00" y1="98.20" x2="443.00" y2="154.00" stroke="#4a4a4a" stroke-width="1.3" />
<line x1="439.70" y1="98.20" x2="446.30" y2="98.20" stroke="#4a4a4a" stroke-width="1.3" />
<line x1="439.70" y1="154.00" x2="446.30" y2="154.00" stroke="#4a4a4a" stroke-width="1.3" />
<line x1="445.50" y1="96.30" x2="445.50" y2="155.80" stroke="#4a4a4a" stroke-width="1.3" />
<line x1="442.20" y1="96.30" x2="448.80" y2="96.30" stroke="#4a4a4a" stroke-width="1.3" />
<line x1="442.20" y1="155.80" x2="448.80" y2="155.80" stroke="#4a4a4a" stroke-width="1.3" />
<line x1="447.50" y1="99.00" x2="447.50" y2="153.00" stroke="#4a4a4a" stroke-width="1.3" />
<line x1="444.20" y1="99.00" x2="450.80" y2="99.00" stroke="#4a4a4a" stroke-width="1.3" />
<line x1="444.20" y1="153.00" x2="450.80" y2="153.00" stroke="#4a4a4a" stroke-width="1.3" />
<line x1="449.50" y1="101.50" x2="449.50" y2="152.00" stroke="#4a4a4a" stroke-width="1.3" />
<line x1="446.20" y1="101.50" x2="452.80" y2="101.50" stroke="#4a4a4a" stroke-width="1.3" />
<line x1="446.20" y1="152.00" x2="452.80" y2="152.00" stroke="#4a4a4a" stroke-width="1.3" />
<line x1="451.00" y1="103.90" x2="451.00" y2="151.10" stroke="#4a4a4a" stroke-width="1.3" />
<line x1="447.70" y1="103.90" x2="454.30" y2="103.90" stroke="#4a4a4a" stroke-width="1.3" />
<line x1="447.70" y1="151.10" x2="454.30" y2="151.10" stroke="#4a4a4a" stroke-width="1.3" />
<line x1="455.10" y1="105.10" x2="455.10" y2="152.20" stroke="#4a4a4a" stroke-width="1.3" />
<line x1="451.80" y1="105.10" x2="458.40" y2="105.10" stroke="#4a4a4a" stroke-width="1.3" />
<line x1="451.80" y1="152.20" x2="458.40" y2="152.20" stroke="#4a4a4a" stroke-width="1.3" />
<line x1="463.10" y1="108.90" x2="463.10" y2="151.20" stroke="#4a4a4a" stroke-width="1.3" />
<line x1="459.80" y1="108.90" x2="466.40" y2="108.90" stroke="#4a4a4a" stroke-width="1.3" />
<line x1="459.80" y1="151.20" x2="466.40" y2="151.20" stroke="#4a4a4a" stroke-width="1.3" />
<line x1="471.40" y1="110.10" x2="471.40" y2="152.20" stroke="#4a4a4a" stroke-width="1.3" />
<line x1="468.10" y1="110.10" x2="474.70" y2="110.10" stroke="#4a4a4a" stroke-width="1.3" />
<line x1="468.10" y1="152.20" x2="474.70" y2="152.20" stroke="#4a4a4a" stroke-width="1.3" />
<line x1="479.60" y1="107.40" x2="479.60" y2="153.10" stroke="#4a4a4a" stroke-width="1.3" />
<line x1="476.30" y1="107.40" x2="482.90" y2="107.40" stroke="#4a4a4a" stroke-width="1.3" />
<line x1="476.30" y1="153.10" x2="482.90" y2="153.10" stroke="#4a4a4a" stroke-width="1.3" />
<line x1="487.70" y1="110.40" x2="487.70" y2="155.00" stroke="#4a4a4a" stroke-width="1.3" />
<line x1="484.40" y1="110.40" x2="491.00" y2="110.40" stroke="#4a4a4a" stroke-width="1.3" />
<line x1="484.40" y1="155.00" x2="491.00" y2="155.00" stroke="#4a4a4a" stroke-width="1.3" />
<line x1="495.90" y1="111.10" x2="495.90" y2="155.40" stroke="#4a4a4a" stroke-width="1.3" />
<line x1="492.60" y1="111.10" x2="499.20" y2="111.10" stroke="#4a4a4a" stroke-width="1.3" />
<line x1="492.60" y1="155.40" x2="499.20" y2="155.40" stroke="#4a4a4a" stroke-width="1.3" />
<line x1="504.00" y1="113.40" x2="504.00" y2="155.00" stroke="#4a4a4a" stroke-width="1.3" />
<line x1="500.70" y1="113.40" x2="507.30" y2="113.40" stroke="#4a4a4a" stroke-width="1.3" />
<line x1="500.70" y1="155.00" x2="507.30" y2="155.00" stroke="#4a4a4a" stroke-width="1.3" />
<line x1="512.20" y1="112.70" x2="512.20" y2="158.00" stroke="#4a4a4a" stroke-width="1.3" />
<line x1="508.90" y1="112.70" x2="515.50" y2="112.70" stroke="#4a4a4a" stroke-width="1.3" />
<line x1="508.90" y1="158.00" x2="515.50" y2="158.00" stroke="#4a4a4a" stroke-width="1.3" />
<line x1="520.40" y1="116.90" x2="520.40" y2="156.50" stroke="#4a4a4a" stroke-width="1.3" />
<line x1="517.10" y1="116.90" x2="523.70" y2="116.90" stroke="#4a4a4a" stroke-width="1.3" />
<line x1="517.10" y1="156.50" x2="523.70" y2="156.50" stroke="#4a4a4a" stroke-width="1.3" />
<line x1="528.50" y1="114.20" x2="528.50" y2="157.20" stroke="#4a4a4a" stroke-width="1.3" />
<line x1="525.20" y1="114.20" x2="531.80" y2="114.20" stroke="#4a4a4a" stroke-width="1.3" />
<line x1="525.20" y1="157.20" x2="531.80" y2="157.20" stroke="#4a4a4a" stroke-width="1.3" />
<line x1="585.90" y1="167.40" x2="585.90" y2="176.20" stroke="#4a4a4a" stroke-width="1.3" />
<line x1="582.60" y1="167.40" x2="589.20" y2="167.40" stroke="#4a4a4a" stroke-width="1.3" />
<line x1="582.60" y1="176.20" x2="589.20" y2="176.20" stroke="#4a4a4a" stroke-width="1.3" />
<line x1="593.50" y1="167.40" x2="593.50" y2="176.20" stroke="#4a4a4a" stroke-width="1.3" />
<line x1="590.20" y1="167.40" x2="596.80" y2="167.40" stroke="#4a4a4a" stroke-width="1.3" />
<line x1="590.20" y1="176.20" x2="596.80" y2="176.20" stroke="#4a4a4a" stroke-width="1.3" />
<line x1="607.60" y1="167.40" x2="607.60" y2="176.20" stroke="#4a4a4a" stroke-width="1.3" />
<line x1="604.30" y1="167.40" x2="610.90" y2="167.40" stroke="#4a4a4a" stroke-width="1.3" />
<line x1="604.30" y1="176.20" x2="610.90" y2="176.20" stroke="#4a4a4a" stroke-width="1.3" />
<line x1="614.80" y1="167.40" x2="614.80" y2="176.20" stroke="#4a4a4a" stroke-width="1.3" />
<line x1="611.50" y1="167.40" x2="618.10" y2="167.40" stroke="#4a4a4a" stroke-width="1.3" />
<line x1="611.50" y1="176.20" x2="618.10" y2="176.20" stroke="#4a4a4a" stroke-width="1.3" />
<line x1="621.80" y1="167.40" x2="621.80" y2="176.20" stroke="#4a4a4a" stroke-width="1.3" />
<line x1="618.50" y1="167.40" x2="625.10" y2="167.40" stroke="#4a4a4a" stroke-width="1.3" />
<line x1="618.50" y1="176.20" x2="625.10" y2="176.20" stroke="#4a4a4a" stroke-width="1.3" />
<polyline points="436.60,190.50 437.00,172.00 437.80,105.00 438.30,110.00 438.80,115.00 439.50,119.00 440.30,122.00 441.30,124.50 443.00,126.50 445.50,127.50 447.50,128.50 449.50,129.50 451.00,129.50 455.10,128.50 463.10,130.00 471.40,131.10 479.60,130.00 487.70,132.70 495.90,133.50 504.00,134.10 512.20,135.00 520.40,136.80 528.50,135.80 554.60,152.00" fill="none" stroke="#3c3c3c" stroke-width="1.3" stroke-linejoin="round"/>
<polyline points="566.20,159.10 585.90,171.40 593.50,171.40 600.60,172.50 607.60,171.90 614.80,172.40 621.80,172.50 628.60,174.40 635.60,174.70 642.80,174.70 649.90,174.70 656.90,174.70 663.40,174.70" fill="none" stroke="#3c3c3c" stroke-width="1.3" stroke-linejoin="round"/>
<path d="M436.60 186.80L439.90 190.50L436.60 194.20L433.30 190.50Z" fill="#3c3c3c"/>
<path d="M437.00 168.30L440.30 172.00L437.00 175.70L433.70 172.00Z" fill="#3c3c3c"/>
<path d="M437.80 101.30L441.10 105.00L437.80 108.70L434.50 105.00Z" fill="#3c3c3c"/>
<path d="M438.30 106.30L441.60 110.00L438.30 113.70L435.00 110.00Z" fill="#3c3c3c"/>
<path d="M438.80 111.30L442.10 115.00L438.80 118.70L435.50 115.00Z" fill="#3c3c3c"/>
<path d="M439.50 115.30L442.80 119.00L439.50 122.70L436.20 119.00Z" fill="#3c3c3c"/>
<path d="M440.30 118.30L443.60 122.00L440.30 125.70L437.00 122.00Z" fill="#3c3c3c"/>
<path d="M441.30 120.80L444.60 124.50L441.30 128.20L438.00 124.50Z" fill="#3c3c3c"/>
<path d="M443.00 122.80L446.30 126.50L443.00 130.20L439.70 126.50Z" fill="#3c3c3c"/>
<path d="M445.50 123.80L448.80 127.50L445.50 131.20L442.20 127.50Z" fill="#3c3c3c"/>
<path d="M447.50 124.80L450.80 128.50L447.50 132.20L444.20 128.50Z" fill="#3c3c3c"/>
<path d="M449.50 125.80L452.80 129.50L449.50 133.20L446.20 129.50Z" fill="#3c3c3c"/>
<path d="M451.00 125.80L454.30 129.50L451.00 133.20L447.70 129.50Z" fill="#3c3c3c"/>
<path d="M455.10 124.80L458.40 128.50L455.10 132.20L451.80 128.50Z" fill="#3c3c3c"/>
<path d="M463.10 126.30L466.40 130.00L463.10 133.70L459.80 130.00Z" fill="#3c3c3c"/>
<path d="M471.40 127.40L474.70 131.10L471.40 134.80L468.10 131.10Z" fill="#3c3c3c"/>
<path d="M479.60 126.30L482.90 130.00L479.60 133.70L476.30 130.00Z" fill="#3c3c3c"/>
<path d="M487.70 129.00L491.00 132.70L487.70 136.40L484.40 132.70Z" fill="#3c3c3c"/>
<path d="M495.90 129.80L499.20 133.50L495.90 137.20L492.60 133.50Z" fill="#3c3c3c"/>
<path d="M504.00 130.40L507.30 134.10L504.00 137.80L500.70 134.10Z" fill="#3c3c3c"/>
<path d="M512.20 131.30L515.50 135.00L512.20 138.70L508.90 135.00Z" fill="#3c3c3c"/>
<path d="M520.40 133.10L523.70 136.80L520.40 140.50L517.10 136.80Z" fill="#3c3c3c"/>
<path d="M528.50 132.10L531.80 135.80L528.50 139.50L525.20 135.80Z" fill="#3c3c3c"/>
<path d="M585.90 167.70L589.20 171.40L585.90 175.10L582.60 171.40Z" fill="#3c3c3c"/>
<path d="M593.50 167.70L596.80 171.40L593.50 175.10L590.20 171.40Z" fill="#3c3c3c"/>
<path d="M600.60 168.80L603.90 172.50L600.60 176.20L597.30 172.50Z" fill="#3c3c3c"/>
<path d="M607.60 168.20L610.90 171.90L607.60 175.60L604.30 171.90Z" fill="#3c3c3c"/>
<path d="M614.80 168.70L618.10 172.40L614.80 176.10L611.50 172.40Z" fill="#3c3c3c"/>
<path d="M621.80 168.80L625.10 172.50L621.80 176.20L618.50 172.50Z" fill="#3c3c3c"/>
<path d="M628.60 170.70L631.90 174.40L628.60 178.10L625.30 174.40Z" fill="#3c3c3c"/>
<path d="M635.60 171.00L638.90 174.70L635.60 178.40L632.30 174.70Z" fill="#3c3c3c"/>
<path d="M642.80 171.00L646.10 174.70L642.80 178.40L639.50 174.70Z" fill="#3c3c3c"/>
<path d="M649.90 171.00L653.20 174.70L649.90 178.40L646.60 174.70Z" fill="#3c3c3c"/>
<path d="M656.90 171.00L660.20 174.70L656.90 178.40L653.60 174.70Z" fill="#3c3c3c"/>
<path d="M663.40 171.00L666.70 174.70L663.40 178.40L660.10 174.70Z" fill="#3c3c3c"/>
<text x="560.5" y="231.6" font-family="Liberation Serif" font-size="13.5" font-weight="normal" text-anchor="middle"  style="">Time [h]</text>
<text transform="translate(390.7,109.4) rotate(-90)" x="0" y="0" font-family="Liberation Serif" font-size="13.5" text-anchor="middle">Activityconcentration</text>
<text transform="translate(406,109.4) rotate(-90)" x="0" y="0" font-family="Liberation Serif" font-size="13.5" text-anchor="middle">blood [%IA/ml]</text>
<line x1="49.00" y1="265.50" x2="49.00" y2="432.90" stroke="#000" stroke-width="2" />
<line x1="42.50" y1="266.50" x2="49.00" y2="266.50" stroke="#000" stroke-width="2" />
<text x="40.1" y="270.8" font-family="Liberation Sans" font-size="12" font-weight="bold" text-anchor="end"  style="">5</text>
<line x1="42.50" y1="299.60" x2="49.00" y2="299.60" stroke="#000" stroke-width="2" />
<text x="40.1" y="303.90000000000003" font-family="Liberation Sans" font-size="12" font-weight="bold" text-anchor="end"  style="">4</text>
<line x1="42.50" y1="332.70" x2="49.00" y2="332.70" stroke="#000" stroke-width="2" />
<text x="40.1" y="337.0" font-family="Liberation Sans" font-size="12" font-weight="bold" text-anchor="end"  style="">3</text>
<line x1="42.50" y1="365.70" x2="49.00" y2="365.70" stroke="#000" stroke-width="2" />
<text x="40.1" y="370.0" font-family="Liberation Sans" font-size="12" font-weight="bold" text-anchor="end"  style="">2</text>
<line x1="42.50" y1="398.80" x2="49.00" y2="398.80" stroke="#000" stroke-width="2" />
<text x="40.1" y="403.1" font-family="Liberation Sans" font-size="12" font-weight="bold" text-anchor="end"  style="">1</text>
<line x1="42.50" y1="431.90" x2="49.00" y2="431.90" stroke="#000" stroke-width="2" />
<text x="40.1" y="436.2" font-family="Liberation Sans" font-size="12" font-weight="bold" text-anchor="end"  style="">0</text>
<line x1="48.00" y1="431.90" x2="166.70" y2="431.90" stroke="#000" stroke-width="2" />
<line x1="179.00" y1="431.90" x2="297.60" y2="431.90" stroke="#000" stroke-width="2" />
<line x1="166.70" y1="427.90" x2="166.70" y2="436.20" stroke="#000" stroke-width="1.8" />
<line x1="179.00" y1="427.90" x2="179.00" y2="436.20" stroke="#000" stroke-width="1.8" />
<line x1="49.00" y1="431.90" x2="49.00" y2="438.90" stroke="#000" stroke-width="2" />
<text x="49" y="452.8" font-family="Liberation Sans" font-size="12" font-weight="bold" text-anchor="middle"  style="">0</text>
<line x1="147.00" y1="431.90" x2="147.00" y2="438.90" stroke="#000" stroke-width="2" />
<text x="147" y="452.8" font-family="Liberation Sans" font-size="12" font-weight="bold" text-anchor="middle"  style="">1</text>
<line x1="195.80" y1="431.90" x2="195.80" y2="438.90" stroke="#000" stroke-width="2" />
<text x="195.8" y="452.8" font-family="Liberation Sans" font-size="12" font-weight="bold" text-anchor="middle"  style="">24</text>
<line x1="279.70" y1="431.90" x2="279.70" y2="438.90" stroke="#000" stroke-width="2" />
<text x="279.7" y="452.8" font-family="Liberation Sans" font-size="12" font-weight="bold" text-anchor="middle"  style="">25</text>
<line x1="98.00" y1="431.90" x2="98.00" y2="435.90" stroke="#000" stroke-width="2" />
<line x1="238.00" y1="431.90" x2="238.00" y2="435.90" stroke="#000" stroke-width="2" />
<text x="9.8" y="255.9" font-family="Liberation Serif" font-size="13.5" font-weight="normal" text-anchor="start"  style="">c)</text>
<line x1="49.60" y1="418.00" x2="49.60" y2="428.00" stroke="#dedede" stroke-width="1.3" />
<line x1="46.30" y1="418.00" x2="52.90" y2="418.00" stroke="#dedede" stroke-width="1.3" />
<line x1="46.30" y1="428.00" x2="52.90" y2="428.00" stroke="#dedede" stroke-width="1.3" />
<line x1="50.50" y1="380.00" x2="50.50" y2="413.20" stroke="#dedede" stroke-width="1.3" />
<line x1="47.20" y1="380.00" x2="53.80" y2="380.00" stroke="#dedede" stroke-width="1.3" />
<line x1="47.20" y1="413.20" x2="53.80" y2="413.20" stroke="#dedede" stroke-width="1.3" />
<line x1="52.50" y1="372.00" x2="52.50" y2="410.40" stroke="#dedede" stroke-width="1.3" />
<line x1="49.20" y1="372.00" x2="55.80" y2="372.00" stroke="#dedede" stroke-width="1.3" />
<line x1="49.20" y1="410.40" x2="55.80" y2="410.40" stroke="#dedede" stroke-width="1.3" />
<line x1="54.50" y1="370.00" x2="54.50" y2="406.40" stroke="#dedede" stroke-width="1.3" />
<line x1="51.20" y1="370.00" x2="57.80" y2="370.00" stroke="#dedede" stroke-width="1.3" />
<line x1="51.20" y1="406.40" x2="57.80" y2="406.40" stroke="#dedede" stroke-width="1.3" />
<line x1="56.00" y1="368.00" x2="56.00" y2="404.20" stroke="#dedede" stroke-width="1.3" />
<line x1="52.70" y1="368.00" x2="59.30" y2="368.00" stroke="#dedede" stroke-width="1.3" />
<line x1="52.70" y1="404.20" x2="59.30" y2="404.20" stroke="#dedede" stroke-width="1.3" />
<line x1="58.50" y1="372.00" x2="58.50" y2="396.80" stroke="#dedede" stroke-width="1.3" />
<line x1="55.20" y1="372.00" x2="61.80" y2="372.00" stroke="#dedede" stroke-width="1.3" />
<line x1="55.20" y1="396.80" x2="61.80" y2="396.80" stroke="#dedede" stroke-width="1.3" />
<line x1="62.00" y1="374.00" x2="62.00" y2="392.80" stroke="#dedede" stroke-width="1.3" />
<line x1="58.70" y1="374.00" x2="65.30" y2="374.00" stroke="#dedede" stroke-width="1.3" />
<line x1="58.70" y1="392.80" x2="65.30" y2="392.80" stroke="#dedede" stroke-width="1.3" />
<line x1="67.80" y1="376.00" x2="67.80" y2="397.60" stroke="#dedede" stroke-width="1.3" />
<line x1="64.50" y1="376.00" x2="71.10" y2="376.00" stroke="#dedede" stroke-width="1.3" />
<line x1="64.50" y1="397.60" x2="71.10" y2="397.60" stroke="#dedede" stroke-width="1.3" />
<line x1="76.00" y1="376.00" x2="76.00" y2="397.60" stroke="#dedede" stroke-width="1.3" />
<line x1="72.70" y1="376.00" x2="79.30" y2="376.00" stroke="#dedede" stroke-width="1.3" />
<line x1="72.70" y1="397.60" x2="79.30" y2="397.60" stroke="#dedede" stroke-width="1.3" />
<line x1="84.20" y1="376.00" x2="84.20" y2="397.60" stroke="#dedede" stroke-width="1.3" />
<line x1="80.90" y1="376.00" x2="87.50" y2="376.00" stroke="#dedede" stroke-width="1.3" />
<line x1="80.90" y1="397.60" x2="87.50" y2="397.60" stroke="#dedede" stroke-width="1.3" />
<line x1="92.10" y1="376.00" x2="92.10" y2="397.60" stroke="#dedede" stroke-width="1.3" />
<line x1="88.80" y1="376.00" x2="95.40" y2="376.00" stroke="#dedede" stroke-width="1.3" />
<line x1="88.80" y1="397.60" x2="95.40" y2="397.60" stroke="#dedede" stroke-width="1.3" />
<line x1="100.50" y1="376.00" x2="100.50" y2="397.60" stroke="#dedede" stroke-width="1.3" />
<line x1="97.20" y1="376.00" x2="103.80" y2="376.00" stroke="#dedede" stroke-width="1.3" />
<line x1="97.20" y1="397.60" x2="103.80" y2="397.60" stroke="#dedede" stroke-width="1.3" />
<line x1="108.80" y1="376.00" x2="108.80" y2="397.60" stroke="#dedede" stroke-width="1.3" />
<line x1="105.50" y1="376.00" x2="112.10" y2="376.00" stroke="#dedede" stroke-width="1.3" />
<line x1="105.50" y1="397.60" x2="112.10" y2="397.60" stroke="#dedede" stroke-width="1.3" />
<line x1="116.70" y1="376.00" x2="116.70" y2="397.60" stroke="#dedede" stroke-width="1.3" />
<line x1="113.40" y1="376.00" x2="120.00" y2="376.00" stroke="#dedede" stroke-width="1.3" />
<line x1="113.40" y1="397.60" x2="120.00" y2="397.60" stroke="#dedede" stroke-width="1.3" />
<line x1="125.00" y1="376.00" x2="125.00" y2="397.60" stroke="#dedede" stroke-width="1.3" />
<line x1="121.70" y1="376.00" x2="128.30" y2="376.00" stroke="#dedede" stroke-width="1.3" />
<line x1="121.70" y1="397.60" x2="128.30" y2="397.60" stroke="#dedede" stroke-width="1.3" />
<line x1="133.10" y1="376.00" x2="133.10" y2="397.60" stroke="#dedede" stroke-width="1.3" />
<line x1="129.80" y1="376.00" x2="136.40" y2="376.00" stroke="#dedede" stroke-width="1.3" />
<line x1="129.80" y1="397.60" x2="136.40" y2="397.60" stroke="#dedede" stroke-width="1.3" />
<line x1="141.20" y1="376.00" x2="141.20" y2="397.60" stroke="#dedede" stroke-width="1.3" />
<line x1="137.90" y1="376.00" x2="144.50" y2="376.00" stroke="#dedede" stroke-width="1.3" />
<line x1="137.90" y1="397.60" x2="144.50" y2="397.60" stroke="#dedede" stroke-width="1.3" />
<polyline points="49.60,424.00 50.50,395.00 52.50,386.00 54.50,381.00 56.00,381.00 58.50,383.00 62.00,384.00 67.80,384.50 76.00,385.00 84.20,385.50 92.10,386.00 100.50,386.30 108.80,386.60 116.70,387.00 125.00,387.30 133.10,387.50 141.20,387.00 167.00,395.20" fill="none" stroke="#d6d6d6" stroke-width="1.3" stroke-linejoin="round"/>
<polyline points="179.10,397.80 199.50,404.60 206.20,404.60 213.20,404.60 220.20,404.60 227.20,404.60 234.60,404.60 241.20,404.60 248.20,404.60 255.20,404.60 262.20,404.60 269.30,404.60 276.30,404.60" fill="none" stroke="#d6d6d6" stroke-width="1.3" stroke-linejoin="round"/>
<path d="M49.60 421.80L53.00 427.80L46.20 427.80Z" fill="#d6d6d6"/>
<path d="M50.50 392.80L53.90 398.80L47.10 398.80Z" fill="#d6d6d6"/>
<path d="M52.50 383.80L55.90 389.80L49.10 389.80Z" fill="#d6d6d6"/>
<path d="M54.50 378.80L57.90 384.80L51.10 384.80Z" fill="#d6d6d6"/>
<path d="M56.00 378.80L59.40 384.80L52.60 384.80Z" fill="#d6d6d6"/>
<path d="M58.50 380.80L61.90 386.80L55.10 386.80Z" fill="#d6d6d6"/>
<path d="M62.00 381.80L65.40 387.80L58.60 387.80Z" fill="#d6d6d6"/>
<path d="M67.80 382.30L71.20 388.30L64.40 388.30Z" fill="#d6d6d6"/>
<path d="M76.00 382.80L79.40 388.80L72.60 388.80Z" fill="#d6d6d6"/>
<path d="M84.20 383.30L87.60 389.30L80.80 389.30Z" fill="#d6d6d6"/>
<path d="M92.10 383.80L95.50 389.80L88.70 389.80Z" fill="#d6d6d6"/>
<path d="M100.50 384.10L103.90 390.10L97.10 390.10Z" fill="#d6d6d6"/>
<path d="M108.80 384.40L112.20 390.40L105.40 390.40Z" fill="#d6d6d6"/>
<path d="M116.70 384.80L120.10 390.80L113.30 390.80Z" fill="#d6d6d6"/>
<path d="M125.00 385.10L128.40 391.10L121.60 391.10Z" fill="#d6d6d6"/>
<path d="M133.10 385.30L136.50 391.30L129.70 391.30Z" fill="#d6d6d6"/>
<path d="M141.20 384.80L144.60 390.80L137.80 390.80Z" fill="#d6d6d6"/>
<path d="M199.50 402.40L202.90 408.40L196.10 408.40Z" fill="#d6d6d6"/>
<path d="M206.20 402.40L209.60 408.40L202.80 408.40Z" fill="#d6d6d6"/>
<path d="M213.20 402.40L216.60 408.40L209.80 408.40Z" fill="#d6d6d6"/>
<path d="M220.20 402.40L223.60 408.40L216.80 408.40Z" fill="#d6d6d6"/>
<path d="M227.20 402.40L230.60 408.40L223.80 408.40Z" fill="#d6d6d6"/>
<path d="M234.60 402.40L238.00 408.40L231.20 408.40Z" fill="#d6d6d6"/>
<path d="M241.20 402.40L244.60 408.40L237.80 408.40Z" fill="#d6d6d6"/>
<path d="M248.20 402.40L251.60 408.40L244.80 408.40Z" fill="#d6d6d6"/>
<path d="M255.20 402.40L258.60 408.40L251.80 408.40Z" fill="#d6d6d6"/>
<path d="M262.20 402.40L265.60 408.40L258.80 408.40Z" fill="#d6d6d6"/>
<path d="M269.30 402.40L272.70 408.40L265.90 408.40Z" fill="#d6d6d6"/>
<path d="M276.30 402.40L279.70 408.40L272.90 408.40Z" fill="#d6d6d6"/>
<line x1="49.30" y1="422.00" x2="49.30" y2="427.40" stroke="#4a4a4a" stroke-width="1.3" />
<line x1="46.00" y1="422.00" x2="52.60" y2="422.00" stroke="#4a4a4a" stroke-width="1.3" />
<line x1="46.00" y1="427.40" x2="52.60" y2="427.40" stroke="#4a4a4a" stroke-width="1.3" />
<line x1="49.80" y1="377.00" x2="49.80" y2="391.00" stroke="#4a4a4a" stroke-width="1.3" />
<line x1="46.50" y1="377.00" x2="53.10" y2="377.00" stroke="#4a4a4a" stroke-width="1.3" />
<line x1="46.50" y1="391.00" x2="53.10" y2="391.00" stroke="#4a4a4a" stroke-width="1.3" />
<line x1="50.80" y1="300.00" x2="50.80" y2="375.00" stroke="#4a4a4a" stroke-width="1.3" />
<line x1="47.50" y1="300.00" x2="54.10" y2="300.00" stroke="#4a4a4a" stroke-width="1.3" />
<line x1="47.50" y1="375.00" x2="54.10" y2="375.00" stroke="#4a4a4a" stroke-width="1.3" />
<line x1="51.60" y1="304.20" x2="51.60" y2="360.00" stroke="#4a4a4a" stroke-width="1.3" />
<line x1="48.30" y1="304.20" x2="54.90" y2="304.20" stroke="#4a4a4a" stroke-width="1.3" />
<line x1="48.30" y1="360.00" x2="54.90" y2="360.00" stroke="#4a4a4a" stroke-width="1.3" />
<line x1="53.20" y1="310.20" x2="53.20" y2="358.00" stroke="#4a4a4a" stroke-width="1.3" />
<line x1="49.90" y1="310.20" x2="56.50" y2="310.20" stroke="#4a4a4a" stroke-width="1.3" />
<line x1="49.90" y1="358.00" x2="56.50" y2="358.00" stroke="#4a4a4a" stroke-width="1.3" />
<line x1="54.00" y1="333.50" x2="54.00" y2="377.50" stroke="#4a4a4a" stroke-width="1.3" />
<line x1="50.70" y1="333.50" x2="57.30" y2="333.50" stroke="#4a4a4a" stroke-width="1.3" />
<line x1="50.70" y1="377.50" x2="57.30" y2="377.50" stroke="#4a4a4a" stroke-width="1.3" />
<line x1="55.60" y1="333.50" x2="55.60" y2="374.70" stroke="#4a4a4a" stroke-width="1.3" />
<line x1="52.30" y1="333.50" x2="58.90" y2="333.50" stroke="#4a4a4a" stroke-width="1.3" />
<line x1="52.30" y1="374.70" x2="58.90" y2="374.70" stroke="#4a4a4a" stroke-width="1.3" />
<line x1="57.90" y1="336.30" x2="57.90" y2="374.20" stroke="#4a4a4a" stroke-width="1.3" />
<line x1="54.60" y1="336.30" x2="61.20" y2="336.30" stroke="#4a4a4a" stroke-width="1.3" />
<line x1="54.60" y1="374.20" x2="61.20" y2="374.20" stroke="#4a4a4a" stroke-width="1.3" />
<line x1="60.10" y1="336.30" x2="60.10" y2="374.20" stroke="#4a4a4a" stroke-width="1.3" />
<line x1="56.80" y1="336.30" x2="63.40" y2="336.30" stroke="#4a4a4a" stroke-width="1.3" />
<line x1="56.80" y1="374.20" x2="63.40" y2="374.20" stroke="#4a4a4a" stroke-width="1.3" />
<line x1="63.00" y1="342.50" x2="63.00" y2="370.20" stroke="#4a4a4a" stroke-width="1.3" />
<line x1="59.70" y1="342.50" x2="66.30" y2="342.50" stroke="#4a4a4a" stroke-width="1.3" />
<line x1="59.70" y1="370.20" x2="66.30" y2="370.20" stroke="#4a4a4a" stroke-width="1.3" />
<line x1="67.80" y1="351.50" x2="67.80" y2="377.60" stroke="#4a4a4a" stroke-width="1.3" />
<line x1="64.50" y1="351.50" x2="71.10" y2="351.50" stroke="#4a4a4a" stroke-width="1.3" />
<line x1="64.50" y1="377.60" x2="71.10" y2="377.60" stroke="#4a4a4a" stroke-width="1.3" />
<line x1="76.00" y1="350.60" x2="76.00" y2="381.50" stroke="#4a4a4a" stroke-width="1.3" />
<line x1="72.70" y1="350.60" x2="79.30" y2="350.60" stroke="#4a4a4a" stroke-width="1.3" />
<line x1="72.70" y1="381.50" x2="79.30" y2="381.50" stroke="#4a4a4a" stroke-width="1.3" />
<line x1="84.20" y1="352.40" x2="84.20" y2="381.20" stroke="#4a4a4a" stroke-width="1.3" />
<line x1="80.90" y1="352.40" x2="87.50" y2="352.40" stroke="#4a4a4a" stroke-width="1.3" />
<line x1="80.90" y1="381.20" x2="87.50" y2="381.20" stroke="#4a4a4a" stroke-width="1.3" />
<line x1="92.10" y1="356.30" x2="92.10" y2="382.30" stroke="#4a4a4a" stroke-width="1.3" />
<line x1="88.80" y1="356.30" x2="95.40" y2="356.30" stroke="#4a4a4a" stroke-width="1.3" />
<line x1="88.80" y1="382.30" x2="95.40" y2="382.30" stroke="#4a4a4a" stroke-width="1.3" />
<line x1="100.50" y1="350.20" x2="100.50" y2="385.30" stroke="#4a4a4a" stroke-width="1.3" />
<line x1="97.20" y1="350.20" x2="103.80" y2="350.20" stroke="#4a4a4a" stroke-width="1.3" />
<line x1="97.20" y1="385.30" x2="103.80" y2="385.30" stroke="#4a4a4a" stroke-width="1.3" />
<line x1="108.80" y1="353.10" x2="108.80" y2="383.40" stroke="#4a4a4a" stroke-width="1.3" />
<line x1="105.50" y1="353.10" x2="112.10" y2="353.10" stroke="#4a4a4a" stroke-width="1.3" />
<line x1="105.50" y1="383.40" x2="112.10" y2="383.40" stroke="#4a4a4a" stroke-width="1.3" />
<line x1="116.70" y1="350.20" x2="116.70" y2="385.30" stroke="#4a4a4a" stroke-width="1.3" />
<line x1="113.40" y1="350.20" x2="120.00" y2="350.20" stroke="#4a4a4a" stroke-width="1.3" />
<line x1="113.40" y1="385.30" x2="120.00" y2="385.30" stroke="#4a4a4a" stroke-width="1.3" />
<line x1="125.00" y1="352.50" x2="125.00" y2="383.10" stroke="#4a4a4a" stroke-width="1.3" />
<line x1="121.70" y1="352.50" x2="128.30" y2="352.50" stroke="#4a4a4a" stroke-width="1.3" />
<line x1="121.70" y1="383.10" x2="128.30" y2="383.10" stroke="#4a4a4a" stroke-width="1.3" />
<line x1="133.10" y1="354.20" x2="133.10" y2="381.40" stroke="#4a4a4a" stroke-width="1.3" />
<line x1="129.80" y1="354.20" x2="136.40" y2="354.20" stroke="#4a4a4a" stroke-width="1.3" />
<line x1="129.80" y1="381.40" x2="136.40" y2="381.40" stroke="#4a4a4a" stroke-width="1.3" />
<line x1="141.20" y1="357.30" x2="141.20" y2="381.80" stroke="#4a4a4a" stroke-width="1.3" />
<line x1="137.90" y1="357.30" x2="144.50" y2="357.30" stroke="#4a4a4a" stroke-width="1.3" />
<line x1="137.90" y1="381.80" x2="144.50" y2="381.80" stroke="#4a4a4a" stroke-width="1.3" />
<line x1="199.50" y1="388.10" x2="199.50" y2="400.90" stroke="#4a4a4a" stroke-width="1.3" />
<line x1="196.20" y1="388.10" x2="202.80" y2="388.10" stroke="#4a4a4a" stroke-width="1.3" />
<line x1="196.20" y1="400.90" x2="202.80" y2="400.90" stroke="#4a4a4a" stroke-width="1.3" />
<line x1="206.20" y1="395.70" x2="206.20" y2="401.30" stroke="#4a4a4a" stroke-width="1.3" />
<line x1="202.90" y1="395.70" x2="209.50" y2="395.70" stroke="#4a4a4a" stroke-width="1.3" />
<line x1="202.90" y1="401.30" x2="209.50" y2="401.30" stroke="#4a4a4a" stroke-width="1.3" />
<line x1="213.20" y1="388.10" x2="213.20" y2="401.30" stroke="#4a4a4a" stroke-width="1.3" />
<line x1="209.90" y1="388.10" x2="216.50" y2="388.10" stroke="#4a4a4a" stroke-width="1.3" />
<line x1="209.90" y1="401.30" x2="216.50" y2="401.30" stroke="#4a4a4a" stroke-width="1.3" />
<line x1="234.60" y1="392.50" x2="234.60" y2="401.30" stroke="#4a4a4a" stroke-width="1.3" />
<line x1="231.30" y1="392.50" x2="237.90" y2="392.50" stroke="#4a4a4a" stroke-width="1.3" />
<line x1="231.30" y1="401.30" x2="237.90" y2="401.30" stroke="#4a4a4a" stroke-width="1.3" />
<polyline points="49.30,424.30 49.80,384.30 50.80,340.00 51.60,329.00 53.20,320.60 54.00,358.00 55.60,361.20 57.90,356.60 60.10,357.00 63.00,355.50 67.80,364.50 76.00,366.00 84.20,366.80 92.10,368.70 100.50,367.60 108.80,368.00 116.70,367.60 125.00,367.60 133.10,367.60 141.20,369.60 167.00,380.50" fill="none" stroke="#3c3c3c" stroke-width="1.3" stroke-linejoin="round"/>
<polyline points="179.10,385.70 199.50,394.30 206.20,398.70 213.20,394.80 220.20,398.70 227.20,397.40 234.60,396.90 241.20,399.20 248.20,399.20 255.20,399.50 262.20,402.20 269.30,399.50 276.30,397.80" fill="none" stroke="#3c3c3c" stroke-width="1.3" stroke-linejoin="round"/>
<path d="M49.30 420.60L52.60 424.30L49.30 428.00L46.00 424.30Z" fill="#3c3c3c"/>
<path d="M49.80 380.60L53.10 384.30L49.80 388.00L46.50 384.30Z" fill="#3c3c3c"/>
<path d="M50.80 336.30L54.10 340.00L50.80 343.70L47.50 340.00Z" fill="#3c3c3c"/>
<path d="M51.60 325.30L54.90 329.00L51.60 332.70L48.30 329.00Z" fill="#3c3c3c"/>
<path d="M53.20 316.90L56.50 320.60L53.20 324.30L49.90 320.60Z" fill="#3c3c3c"/>
<path d="M54.00 354.30L57.30 358.00L54.00 361.70L50.70 358.00Z" fill="#3c3c3c"/>
<path d="M55.60 357.50L58.90 361.20L55.60 364.90L52.30 361.20Z" fill="#3c3c3c"/>
<path d="M57.90 352.90L61.20 356.60L57.90 360.30L54.60 356.60Z" fill="#3c3c3c"/>
<path d="M60.10 353.30L63.40 357.00L60.10 360.70L56.80 357.00Z" fill="#3c3c3c"/>
<path d="M63.00 351.80L66.30 355.50L63.00 359.20L59.70 355.50Z" fill="#3c3c3c"/>
<path d="M67.80 360.80L71.10 364.50L67.80 368.20L64.50 364.50Z" fill="#3c3c3c"/>
<path d="M76.00 362.30L79.30 366.00L76.00 369.70L72.70 366.00Z" fill="#3c3c3c"/>
<path d="M84.20 363.10L87.50 366.80L84.20 370.50L80.90 366.80Z" fill="#3c3c3c"/>
<path d="M92.10 365.00L95.40 368.70L92.10 372.40L88.80 368.70Z" fill="#3c3c3c"/>
<path d="M100.50 363.90L103.80 367.60L100.50 371.30L97.20 367.60Z" fill="#3c3c3c"/>
<path d="M108.80 364.30L112.10 368.00L108.80 371.70L105.50 368.00Z" fill="#3c3c3c"/>
<path d="M116.70 363.90L120.00 367.60L116.70 371.30L113.40 367.60Z" fill="#3c3c3c"/>
<path d="M125.00 363.90L128.30 367.60L125.00 371.30L121.70 367.60Z" fill="#3c3c3c"/>
<path d="M133.10 363.90L136.40 367.60L133.10 371.30L129.80 367.60Z" fill="#3c3c3c"/>
<path d="M141.20 365.90L144.50 369.60L141.20 373.30L137.90 369.60Z" fill="#3c3c3c"/>
<path d="M199.50 390.60L202.80 394.30L199.50 398.00L196.20 394.30Z" fill="#3c3c3c"/>
<path d="M206.20 395.00L209.50 398.70L206.20 402.40L202.90 398.70Z" fill="#3c3c3c"/>
<path d="M213.20 391.10L216.50 394.80L213.20 398.50L209.90 394.80Z" fill="#3c3c3c"/>
<path d="M220.20 395.00L223.50 398.70L220.20 402.40L216.90 398.70Z" fill="#3c3c3c"/>
<path d="M227.20 393.70L230.50 397.40L227.20 401.10L223.90 397.40Z" fill="#3c3c3c"/>
<path d="M234.60 393.20L237.90 396.90L234.60 400.60L231.30 396.90Z" fill="#3c3c3c"/>
<path d="M241.20 395.50L244.50 399.20L241.20 402.90L237.90 399.20Z" fill="#3c3c3c"/>
<path d="M248.20 395.50L251.50 399.20L248.20 402.90L244.90 399.20Z" fill="#3c3c3c"/>
<path d="M255.20 395.80L258.50 399.50L255.20 403.20L251.90 399.50Z" fill="#3c3c3c"/>
<path d="M262.20 398.50L265.50 402.20L262.20 405.90L258.90 402.20Z" fill="#3c3c3c"/>
<path d="M269.30 395.80L272.60 399.50L269.30 403.20L266.00 399.50Z" fill="#3c3c3c"/>
<path d="M276.30 394.10L279.60 397.80L276.30 401.50L273.00 397.80Z" fill="#3c3c3c"/>
<text x="172.7" y="471.2" font-family="Liberation Serif" font-size="13.5" font-weight="normal" text-anchor="middle"  style="">Time [h]</text>
<text transform="translate(9.9,349) rotate(-90)" x="0" y="0" font-family="Liberation Serif" font-size="13.5" text-anchor="middle">Activityconcentration</text>
<text transform="translate(25.4,349) rotate(-90)" x="0" y="0" font-family="Liberation Serif" font-size="13.5" text-anchor="middle">brain [%IA/ml]</text>
<text x="384" y="255.8" font-family="Liberation Serif" font-size="13.5" font-weight="normal" text-anchor="start"  style="">d)</text>
<line x1="436.00" y1="266.00" x2="436.00" y2="432.40" stroke="#000" stroke-width="2" />
<line x1="429.50" y1="267.00" x2="436.00" y2="267.00" stroke="#000" stroke-width="2" />
<text x="427.2" y="271.3" font-family="Liberation Sans" font-size="12" font-weight="bold" text-anchor="end"  style="">40</text>
<line x1="429.50" y1="308.10" x2="436.00" y2="308.10" stroke="#000" stroke-width="2" />
<text x="427.2" y="312.40000000000003" font-family="Liberation Sans" font-size="12" font-weight="bold" text-anchor="end"  style="">30</text>
<line x1="429.50" y1="349.20" x2="436.00" y2="349.20" stroke="#000" stroke-width="2" />
<text x="427.2" y="353.5" font-family="Liberation Sans" font-size="12" font-weight="bold" text-anchor="end"  style="">20</text>
<line x1="429.50" y1="390.30" x2="436.00" y2="390.30" stroke="#000" stroke-width="2" />
<text x="427.2" y="394.6" font-family="Liberation Sans" font-size="12" font-weight="bold" text-anchor="end"  style="">10</text>
<line x1="429.50" y1="431.40" x2="436.00" y2="431.40" stroke="#000" stroke-width="2" />
<text x="427.2" y="435.7" font-family="Liberation Sans" font-size="12" font-weight="bold" text-anchor="end"  style="">0</text>
<line x1="435.00" y1="431.40" x2="602.00" y2="431.40" stroke="#000" stroke-width="2" />
<line x1="461.50" y1="375.50" x2="461.50" y2="384.30" stroke="#000" stroke-width="2" />
<line x1="461.50" y1="390.50" x2="461.50" y2="393.90" stroke="#000" stroke-width="2" />
<line x1="455.20" y1="375.50" x2="467.80" y2="375.50" stroke="#000" stroke-width="2" />
<line x1="455.20" y1="393.90" x2="467.80" y2="393.90" stroke="#000" stroke-width="2" />
<rect x="450.1" y="384.3" width="22.799999999999955" height="6.199999999999989" fill="#fff" stroke="#000" stroke-width="2"/>
<line x1="450.10" y1="385.30" x2="472.90" y2="385.30" stroke="#000" stroke-width="1.6" />
<line x1="499.80" y1="377.90" x2="499.80" y2="384.50" stroke="#000" stroke-width="2" />
<line x1="499.80" y1="390.50" x2="499.80" y2="393.90" stroke="#000" stroke-width="2" />
<line x1="493.50" y1="377.90" x2="506.10" y2="377.90" stroke="#000" stroke-width="2" />
<line x1="493.50" y1="393.90" x2="506.10" y2="393.90" stroke="#000" stroke-width="2" />
<rect x="488.3" y="384.5" width="22.5" height="6.0" fill="#a0a0a0" stroke="#000" stroke-width="2"/>
<line x1="488.30" y1="385.50" x2="510.80" y2="385.50" stroke="#000" stroke-width="1.6" />
<line x1="537.80" y1="329.10" x2="537.80" y2="342.40" stroke="#000" stroke-width="2" />
<line x1="537.80" y1="351.10" x2="537.80" y2="362.00" stroke="#000" stroke-width="2" />
<line x1="531.50" y1="329.10" x2="544.10" y2="329.10" stroke="#000" stroke-width="2" />
<line x1="531.50" y1="362.00" x2="544.10" y2="362.00" stroke="#000" stroke-width="2" />
<rect x="526.6" y="342.4" width="22.600000000000023" height="8.700000000000045" fill="#fff" stroke="#000" stroke-width="2"/>
<line x1="526.60" y1="345.70" x2="549.20" y2="345.70" stroke="#000" stroke-width="1.6" />
<line x1="576.00" y1="359.00" x2="576.00" y2="366.00" stroke="#000" stroke-width="2" />
<line x1="576.00" y1="374.50" x2="576.00" y2="383.00" stroke="#000" stroke-width="2" />
<line x1="569.70" y1="359.00" x2="582.30" y2="359.00" stroke="#000" stroke-width="2" />
<line x1="569.70" y1="383.00" x2="582.30" y2="383.00" stroke="#000" stroke-width="2" />
<rect x="564.6" y="366" width="22.899999999999977" height="8.5" fill="#a0a0a0" stroke="#000" stroke-width="2"/>
<line x1="564.60" y1="370.00" x2="587.50" y2="370.00" stroke="#000" stroke-width="1.6" />
<line x1="538.20" y1="308.90" x2="576.50" y2="308.90" stroke="#000" stroke-width="2.3" />
<line x1="557.50" y1="294.10" x2="557.50" y2="301.70" stroke="#000" stroke-width="1.3" />
<line x1="554.21" y1="296.00" x2="560.79" y2="299.80" stroke="#000" stroke-width="1.3" />
<line x1="560.79" y1="296.00" x2="554.21" y2="299.80" stroke="#000" stroke-width="1.3" />
<circle cx="557.5" cy="297.9" r="1.1" fill="#000"/>
<text x="458.2" y="449.6" font-family="Liberation Serif" font-size="13.5">1h <tspan font-style="italic">p.i.</tspan></text>
<text x="541.5" y="450" font-family="Liberation Serif" font-size="13.5">24 h <tspan font-style="italic">p.i.</tspan></text>
<text transform="translate(406.6,348.6) rotate(-90)" x="0" y="0" font-family="Liberation Serif" font-size="13.5" text-anchor="middle">Ratios of brain/blood [%]</text>
<rect x="615" y="386.5" width="56.5" height="37.8" fill="#fff" stroke="#333" stroke-width="1.1"/>
<rect x="619.6" y="392.1" width="15.5" height="6.8" fill="#fff" stroke="#000" stroke-width="1.6"/>
<rect x="619.6" y="413.1" width="15.5" height="6.8" fill="#a0a0a0" stroke="#000" stroke-width="1.6"/>
<text x="646.5" y="399.8" font-family="Liberation Sans" font-size="13" font-weight="normal" text-anchor="start"  style="">NI+</text>
<text x="646.5" y="420.8" font-family="Liberation Sans" font-size="13" font-weight="normal" text-anchor="start"  style="">NI-</text>
<line x1="282.60" y1="496.40" x2="282.60" y2="530.00" stroke="#000" stroke-width="1.3" />
<line x1="446.60" y1="496.40" x2="446.60" y2="530.00" stroke="#222" stroke-width="1.2" />
<line x1="282.00" y1="497.10" x2="447.20" y2="497.10" stroke="#555" stroke-width="1.5" />
<line x1="282.00" y1="529.30" x2="447.20" y2="529.30" stroke="#000" stroke-width="1.3" />
<line x1="289.00" y1="513.10" x2="306.50" y2="513.10" stroke="#d6d6d6" stroke-width="1.3" />
<path d="M297.80 511.30L301.10 517.30L294.50 517.30Z" fill="#d6d6d6"/>
<text x="316.5" y="517.8" font-family="Liberation Serif" font-size="13.5" font-weight="normal" text-anchor="start"  style="">NI-</text>
<line x1="390.30" y1="513.10" x2="407.80" y2="513.10" stroke="#3c3c3c" stroke-width="1.3" />
<path d="M399.00 509.50L402.10 513.20L399.00 516.90L395.90 513.20Z" fill="#3c3c3c"/>
<text x="418" y="517.8" font-family="Liberation Serif" font-size="13.5" font-weight="normal" text-anchor="start"  style="">NI+</text>
</svg>
</body></html>
